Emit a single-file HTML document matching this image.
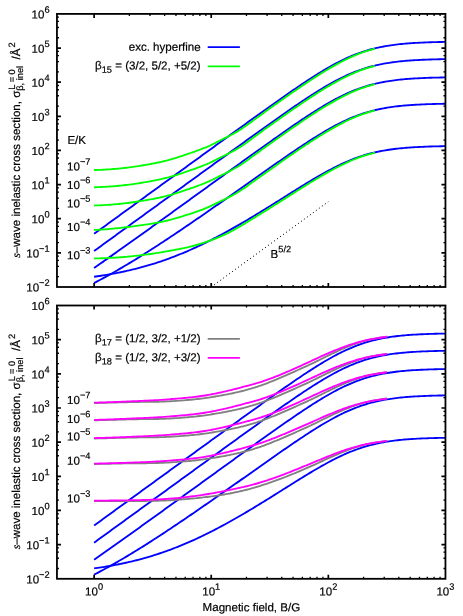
<!DOCTYPE html><html><head><meta charset="utf-8"><title>chart</title><style>html,body{margin:0;padding:0;background:#fff}body{width:463px;height:616px;position:relative;overflow:hidden;font-family:"Liberation Sans",sans-serif}</style></head><body><svg width="463" height="616" viewBox="0 0 463 616" style="position:absolute;left:0;top:0;will-change:transform">
<rect width="463" height="616" fill="#fff"/>
<g fill="none" stroke-linejoin="round" stroke-linecap="butt">
<path d="M211.22,287.00 L328.33,201.66" stroke="#000" stroke-width="1" stroke-dasharray="1.1,2.6"/>
<path d="M94.10,233.86 L95.87,232.58 L97.63,231.30 L99.40,230.01 L101.16,228.73 L102.93,227.45 L104.69,226.17 L106.46,224.88 L108.22,223.60 L109.99,222.32 L111.76,221.03 L113.52,219.75 L115.29,218.47 L117.05,217.18 L118.82,215.90 L120.58,214.62 L122.35,213.33 L124.11,212.05 L125.88,210.77 L127.65,209.48 L129.41,208.20 L131.18,206.92 L132.94,205.64 L134.71,204.35 L136.47,203.07 L138.24,201.79 L140.01,200.50 L141.77,199.22 L143.54,197.94 L145.30,196.65 L147.07,195.37 L148.83,194.09 L150.60,192.80 L152.36,191.52 L154.13,190.24 L155.90,188.96 L157.66,187.67 L159.43,186.39 L161.19,185.11 L162.96,183.82 L164.72,182.54 L166.49,181.26 L168.25,179.98 L170.02,178.69 L171.79,177.41 L173.55,176.13 L175.32,174.84 L177.08,173.56 L178.85,172.28 L180.61,171.00 L182.38,169.71 L184.14,168.43 L185.91,167.15 L187.68,165.87 L189.44,164.58 L191.21,163.30 L192.97,162.02 L194.74,160.74 L196.50,159.46 L198.27,158.17 L200.03,156.89 L201.80,155.61 L203.57,154.33 L205.33,153.05 L207.10,151.76 L208.86,150.48 L210.63,149.20 L212.39,147.92 L214.16,146.64 L215.92,145.36 L217.69,144.08 L219.46,142.80 L221.22,141.52 L222.99,140.24 L224.75,138.96 L226.52,137.68 L228.28,136.40 L230.05,135.12 L231.82,133.85 L233.58,132.57 L235.35,131.29 L237.11,130.02 L238.88,128.74 L240.64,127.46 L242.41,126.19 L244.17,124.91 L245.94,123.64 L247.71,122.37 L249.47,121.10 L251.24,119.82 L253.00,118.55 L254.77,117.28 L256.53,116.02 L258.30,114.75 L260.06,113.48 L261.83,112.22 L263.60,110.96 L265.36,109.69 L267.13,108.43 L268.89,107.18 L270.66,105.92 L272.42,104.67 L274.19,103.41 L275.95,102.17 L277.72,100.92 L279.49,99.68 L281.25,98.43 L283.02,97.20 L284.78,95.96 L286.55,94.73 L288.31,93.51 L290.08,92.28 L291.84,91.07 L293.61,89.85 L295.38,88.65 L297.14,87.44 L298.91,86.25 L300.67,85.06 L302.44,83.88 L304.20,82.70 L305.97,81.53 L307.73,80.37 L309.50,79.22 L311.27,78.08 L313.03,76.95 L314.80,75.83 L316.56,74.72 L318.33,73.62 L320.09,72.54 L321.86,71.46 L323.63,70.40 L325.39,69.36 L327.16,68.33 L328.92,67.32 L330.69,66.32 L332.45,65.34 L334.22,64.38 L335.98,63.44 L337.75,62.51 L339.52,61.61 L341.28,60.73 L343.05,59.86 L344.81,59.02 L346.58,58.21 L348.34,57.41 L350.11,56.64 L351.87,55.89 L353.64,55.17 L355.41,54.47 L357.17,53.79 L358.94,53.14 L360.70,52.51 L362.47,51.91 L364.23,51.33 L366.00,50.78 L367.76,50.25 L369.53,49.74 L371.30,49.25 L373.06,48.79 L374.83,48.35 L376.59,47.94 L378.36,47.54 L380.12,47.16 L381.89,46.81 L383.65,46.47 L385.42,46.15 L387.19,45.85 L388.95,45.57 L390.72,45.30 L392.48,45.05 L394.25,44.82 L396.01,44.60 L397.78,44.39 L399.54,44.19 L401.31,44.01 L403.08,43.84 L404.84,43.68 L406.61,43.53 L408.37,43.39 L410.14,43.26 L411.90,43.13 L413.67,43.02 L415.44,42.91 L417.20,42.81 L418.97,42.72 L420.73,42.64 L422.50,42.56 L424.26,42.48 L426.03,42.41 L427.79,42.35 L429.56,42.29 L431.33,42.23 L433.09,42.18 L434.86,42.13 L436.62,42.09 L438.39,42.04 L440.15,42.00 L441.92,41.97 L443.68,41.94 L445.45,41.90" stroke="#0000ff" stroke-width="1.85"/>
<path d="M94.10,251.03 L95.87,249.75 L97.63,248.46 L99.40,247.18 L101.16,245.90 L102.93,244.62 L104.69,243.34 L106.46,242.06 L108.22,240.78 L109.99,239.50 L111.76,238.22 L113.52,236.93 L115.29,235.65 L117.05,234.37 L118.82,233.09 L120.58,231.81 L122.35,230.53 L124.11,229.25 L125.88,227.96 L127.65,226.68 L129.41,225.40 L131.18,224.12 L132.94,222.84 L134.71,221.55 L136.47,220.27 L138.24,218.99 L140.01,217.71 L141.77,216.43 L143.54,215.14 L145.30,213.86 L147.07,212.58 L148.83,211.30 L150.60,210.02 L152.36,208.73 L154.13,207.45 L155.90,206.17 L157.66,204.89 L159.43,203.60 L161.19,202.32 L162.96,201.04 L164.72,199.76 L166.49,198.48 L168.25,197.19 L170.02,195.91 L171.79,194.63 L173.55,193.35 L175.32,192.06 L177.08,190.78 L178.85,189.50 L180.61,188.22 L182.38,186.94 L184.14,185.65 L185.91,184.37 L187.68,183.09 L189.44,181.81 L191.21,180.53 L192.97,179.24 L194.74,177.96 L196.50,176.68 L198.27,175.40 L200.03,174.12 L201.80,172.84 L203.57,171.56 L205.33,170.27 L207.10,168.99 L208.86,167.71 L210.63,166.43 L212.39,165.15 L214.16,163.87 L215.92,162.59 L217.69,161.31 L219.46,160.03 L221.22,158.75 L222.99,157.47 L224.75,156.19 L226.52,154.91 L228.28,153.63 L230.05,152.36 L231.82,151.08 L233.58,149.80 L235.35,148.52 L237.11,147.25 L238.88,145.97 L240.64,144.70 L242.41,143.42 L244.17,142.15 L245.94,140.87 L247.71,139.60 L249.47,138.33 L251.24,137.06 L253.00,135.79 L254.77,134.52 L256.53,133.25 L258.30,131.98 L260.06,130.72 L261.83,129.45 L263.60,128.19 L265.36,126.93 L267.13,125.67 L268.89,124.41 L270.66,123.15 L272.42,121.90 L274.19,120.65 L275.95,119.40 L277.72,118.15 L279.49,116.91 L281.25,115.67 L283.02,114.43 L284.78,113.20 L286.55,111.97 L288.31,110.74 L290.08,109.52 L291.84,108.30 L293.61,107.09 L295.38,105.88 L297.14,104.68 L298.91,103.48 L300.67,102.29 L302.44,101.11 L304.20,99.94 L305.97,98.77 L307.73,97.61 L309.50,96.46 L311.27,95.32 L313.03,94.19 L314.80,93.06 L316.56,91.95 L318.33,90.86 L320.09,89.77 L321.86,88.70 L323.63,87.64 L325.39,86.60 L327.16,85.57 L328.92,84.55 L330.69,83.56 L332.45,82.58 L334.22,81.61 L335.98,80.67 L337.75,79.75 L339.52,78.84 L341.28,77.96 L343.05,77.10 L344.81,76.26 L346.58,75.44 L348.34,74.65 L350.11,73.87 L351.87,73.13 L353.64,72.40 L355.41,71.70 L357.17,71.03 L358.94,70.37 L360.70,69.75 L362.47,69.14 L364.23,68.57 L366.00,68.01 L367.76,67.48 L369.53,66.97 L371.30,66.49 L373.06,66.03 L374.83,65.59 L376.59,65.17 L378.36,64.78 L380.12,64.40 L381.89,64.04 L383.65,63.71 L385.42,63.39 L387.19,63.09 L388.95,62.81 L390.72,62.54 L392.48,62.29 L394.25,62.05 L396.01,61.83 L397.78,61.62 L399.54,61.43 L401.31,61.25 L403.08,61.07 L404.84,60.91 L406.61,60.76 L408.37,60.62 L410.14,60.49 L411.90,60.37 L413.67,60.26 L415.44,60.15 L417.20,60.05 L418.97,59.96 L420.73,59.87 L422.50,59.79 L424.26,59.72 L426.03,59.65 L427.79,59.58 L429.56,59.52 L431.33,59.47 L433.09,59.41 L434.86,59.37 L436.62,59.32 L438.39,59.28 L440.15,59.24 L441.92,59.20 L443.68,59.17 L445.45,59.14" stroke="#0000ff" stroke-width="1.85"/>
<path d="M94.10,268.08 L95.87,266.84 L97.63,265.60 L99.40,264.36 L101.16,263.11 L102.93,261.87 L104.69,260.62 L106.46,259.37 L108.22,258.13 L109.99,256.87 L111.76,255.62 L113.52,254.37 L115.29,253.12 L117.05,251.86 L118.82,250.61 L120.58,249.35 L122.35,248.09 L124.11,246.84 L125.88,245.58 L127.65,244.32 L129.41,243.06 L131.18,241.80 L132.94,240.53 L134.71,239.27 L136.47,238.01 L138.24,236.74 L140.01,235.48 L141.77,234.21 L143.54,232.95 L145.30,231.68 L147.07,230.41 L148.83,229.15 L150.60,227.88 L152.36,226.61 L154.13,225.34 L155.90,224.07 L157.66,222.80 L159.43,221.53 L161.19,220.26 L162.96,218.99 L164.72,217.72 L166.49,216.45 L168.25,215.17 L170.02,213.90 L171.79,212.63 L173.55,211.36 L175.32,210.08 L177.08,208.81 L178.85,207.54 L180.61,206.26 L182.38,204.99 L184.14,203.71 L185.91,202.44 L187.68,201.16 L189.44,199.89 L191.21,198.61 L192.97,197.34 L194.74,196.06 L196.50,194.78 L198.27,193.51 L200.03,192.23 L201.80,190.96 L203.57,189.68 L205.33,188.40 L207.10,187.13 L208.86,185.85 L210.63,184.57 L212.39,183.30 L214.16,182.02 L215.92,180.74 L217.69,179.47 L219.46,178.19 L221.22,176.92 L222.99,175.64 L224.75,174.36 L226.52,173.09 L228.28,171.81 L230.05,170.54 L231.82,169.26 L233.58,167.99 L235.35,166.71 L237.11,165.44 L238.88,164.17 L240.64,162.89 L242.41,161.62 L244.17,160.35 L245.94,159.08 L247.71,157.81 L249.47,156.54 L251.24,155.27 L253.00,154.00 L254.77,152.73 L256.53,151.47 L258.30,150.20 L260.06,148.94 L261.83,147.67 L263.60,146.41 L265.36,145.15 L267.13,143.89 L268.89,142.64 L270.66,141.38 L272.42,140.13 L274.19,138.88 L275.95,137.63 L277.72,136.39 L279.49,135.15 L281.25,133.91 L283.02,132.67 L284.78,131.44 L286.55,130.21 L288.31,128.98 L290.08,127.76 L291.84,126.54 L293.61,125.33 L295.38,124.13 L297.14,122.92 L298.91,121.73 L300.67,120.54 L302.44,119.36 L304.20,118.18 L305.97,117.02 L307.73,115.86 L309.50,114.71 L311.27,113.57 L313.03,112.44 L314.80,111.32 L316.56,110.21 L318.33,109.11 L320.09,108.03 L321.86,106.95 L323.63,105.90 L325.39,104.85 L327.16,103.82 L328.92,102.81 L330.69,101.81 L332.45,100.83 L334.22,99.87 L335.98,98.93 L337.75,98.01 L339.52,97.10 L341.28,96.22 L343.05,95.36 L344.81,94.52 L346.58,93.70 L348.34,92.91 L350.11,92.14 L351.87,91.39 L353.64,90.67 L355.41,89.97 L357.17,89.29 L358.94,88.64 L360.70,88.01 L362.47,87.41 L364.23,86.83 L366.00,86.28 L367.76,85.75 L369.53,85.24 L371.30,84.76 L373.06,84.29 L374.83,83.86 L376.59,83.44 L378.36,83.04 L380.12,82.67 L381.89,82.31 L383.65,81.97 L385.42,81.66 L387.19,81.36 L388.95,81.07 L390.72,80.81 L392.48,80.56 L394.25,80.32 L396.01,80.10 L397.78,79.89 L399.54,79.69 L401.31,79.51 L403.08,79.34 L404.84,79.18 L406.61,79.03 L408.37,78.89 L410.14,78.76 L411.90,78.64 L413.67,78.52 L415.44,78.42 L417.20,78.32 L418.97,78.22 L420.73,78.14 L422.50,78.06 L424.26,77.98 L426.03,77.91 L427.79,77.85 L429.56,77.79 L431.33,77.73 L433.09,77.68 L434.86,77.63 L436.62,77.59 L438.39,77.55 L440.15,77.51 L441.92,77.47 L443.68,77.44 L445.45,77.41" stroke="#0000ff" stroke-width="1.85"/>
<path d="M94.10,283.00 L95.87,282.08 L97.63,281.16 L99.40,280.23 L101.16,279.29 L102.93,278.34 L104.69,277.38 L106.46,276.41 L108.22,275.44 L109.99,274.45 L111.76,273.46 L113.52,272.46 L115.29,271.46 L117.05,270.44 L118.82,269.42 L120.58,268.40 L122.35,267.36 L124.11,266.32 L125.88,265.27 L127.65,264.21 L129.41,263.15 L131.18,262.09 L132.94,261.01 L134.71,259.93 L136.47,258.85 L138.24,257.75 L140.01,256.66 L141.77,255.55 L143.54,254.45 L145.30,253.33 L147.07,252.21 L148.83,251.09 L150.60,249.96 L152.36,248.83 L154.13,247.69 L155.90,246.55 L157.66,245.41 L159.43,244.26 L161.19,243.10 L162.96,241.95 L164.72,240.78 L166.49,239.62 L168.25,238.45 L170.02,237.28 L171.79,236.10 L173.55,234.92 L175.32,233.74 L177.08,232.55 L178.85,231.37 L180.61,230.17 L182.38,228.98 L184.14,227.78 L185.91,226.58 L187.68,225.38 L189.44,224.17 L191.21,222.97 L192.97,221.76 L194.74,220.55 L196.50,219.33 L198.27,218.12 L200.03,216.90 L201.80,215.68 L203.57,214.46 L205.33,213.23 L207.10,212.01 L208.86,210.78 L210.63,209.55 L212.39,208.32 L214.16,207.09 L215.92,205.85 L217.69,204.62 L219.46,203.38 L221.22,202.15 L222.99,200.91 L224.75,199.67 L226.52,198.43 L228.28,197.19 L230.05,195.94 L231.82,194.70 L233.58,193.46 L235.35,192.21 L237.11,190.97 L238.88,189.72 L240.64,188.48 L242.41,187.23 L244.17,185.98 L245.94,184.74 L247.71,183.49 L249.47,182.24 L251.24,181.00 L253.00,179.75 L254.77,178.50 L256.53,177.26 L258.30,176.01 L260.06,174.77 L261.83,173.52 L263.60,172.28 L265.36,171.03 L267.13,169.79 L268.89,168.55 L270.66,167.31 L272.42,166.08 L274.19,164.84 L275.95,163.61 L277.72,162.37 L279.49,161.14 L281.25,159.92 L283.02,158.69 L284.78,157.47 L286.55,156.25 L288.31,155.04 L290.08,153.83 L291.84,152.62 L293.61,151.42 L295.38,150.23 L297.14,149.03 L298.91,147.85 L300.67,146.67 L302.44,145.50 L304.20,144.33 L305.97,143.17 L307.73,142.02 L309.50,140.88 L311.27,139.75 L313.03,138.62 L314.80,137.51 L316.56,136.41 L318.33,135.32 L320.09,134.24 L321.86,133.17 L323.63,132.12 L325.39,131.08 L327.16,130.06 L328.92,129.05 L330.69,128.06 L332.45,127.09 L334.22,126.13 L335.98,125.19 L337.75,124.27 L339.52,123.38 L341.28,122.50 L343.05,121.64 L344.81,120.80 L346.58,119.99 L348.34,119.20 L350.11,118.43 L351.87,117.69 L353.64,116.97 L355.41,116.27 L357.17,115.60 L358.94,114.95 L360.70,114.33 L362.47,113.73 L364.23,113.15 L366.00,112.60 L367.76,112.07 L369.53,111.56 L371.30,111.08 L373.06,110.62 L374.83,110.19 L376.59,109.77 L378.36,109.38 L380.12,109.00 L381.89,108.65 L383.65,108.31 L385.42,107.99 L387.19,107.69 L388.95,107.41 L390.72,107.15 L392.48,106.90 L394.25,106.66 L396.01,106.44 L397.78,106.23 L399.54,106.04 L401.31,105.86 L403.08,105.69 L404.84,105.53 L406.61,105.38 L408.37,105.24 L410.14,105.11 L411.90,104.98 L413.67,104.87 L415.44,104.76 L417.20,104.66 L418.97,104.57 L420.73,104.49 L422.50,104.41 L424.26,104.33 L426.03,104.26 L427.79,104.20 L429.56,104.14 L431.33,104.08 L433.09,104.03 L434.86,103.98 L436.62,103.94 L438.39,103.89 L440.15,103.86 L441.92,103.82 L443.68,103.79 L445.45,103.76" stroke="#0000ff" stroke-width="1.85"/>
<path d="M94.10,276.76 L95.87,276.51 L97.63,276.26 L99.40,276.00 L101.16,275.73 L102.93,275.45 L104.69,275.17 L106.46,274.87 L108.22,274.57 L109.99,274.27 L111.76,273.95 L113.52,273.63 L115.29,273.29 L117.05,272.95 L118.82,272.60 L120.58,272.24 L122.35,271.87 L124.11,271.50 L125.88,271.11 L127.65,270.71 L129.41,270.31 L131.18,269.89 L132.94,269.47 L134.71,269.03 L136.47,268.59 L138.24,268.13 L140.01,267.67 L141.77,267.19 L143.54,266.71 L145.30,266.21 L147.07,265.70 L148.83,265.19 L150.60,264.66 L152.36,264.12 L154.13,263.57 L155.90,263.01 L157.66,262.43 L159.43,261.85 L161.19,261.26 L162.96,260.65 L164.72,260.04 L166.49,259.41 L168.25,258.77 L170.02,258.12 L171.79,257.46 L173.55,256.79 L175.32,256.11 L177.08,255.41 L178.85,254.71 L180.61,253.99 L182.38,253.27 L184.14,252.53 L185.91,251.78 L187.68,251.03 L189.44,250.26 L191.21,249.48 L192.97,248.69 L194.74,247.89 L196.50,247.07 L198.27,246.25 L200.03,245.42 L201.80,244.58 L203.57,243.73 L205.33,242.87 L207.10,242.00 L208.86,241.12 L210.63,240.23 L212.39,239.33 L214.16,238.43 L215.92,237.51 L217.69,236.59 L219.46,235.65 L221.22,234.71 L222.99,233.76 L224.75,232.81 L226.52,231.84 L228.28,230.87 L230.05,229.89 L231.82,228.90 L233.58,227.90 L235.35,226.90 L237.11,225.89 L238.88,224.87 L240.64,223.85 L242.41,222.82 L244.17,221.79 L245.94,220.75 L247.71,219.70 L249.47,218.65 L251.24,217.59 L253.00,216.53 L254.77,215.47 L256.53,214.39 L258.30,213.32 L260.06,212.24 L261.83,211.16 L263.60,210.07 L265.36,208.98 L267.13,207.88 L268.89,206.79 L270.66,205.69 L272.42,204.59 L274.19,203.48 L275.95,202.38 L277.72,201.27 L279.49,200.16 L281.25,199.05 L283.02,197.94 L284.78,196.83 L286.55,195.72 L288.31,194.62 L290.08,193.51 L291.84,192.40 L293.61,191.30 L295.38,190.19 L297.14,189.09 L298.91,188.00 L300.67,186.90 L302.44,185.82 L304.20,184.73 L305.97,183.65 L307.73,182.58 L309.50,181.51 L311.27,180.45 L313.03,179.40 L314.80,178.36 L316.56,177.32 L318.33,176.30 L320.09,175.28 L321.86,174.28 L323.63,173.29 L325.39,172.31 L327.16,171.34 L328.92,170.39 L330.69,169.45 L332.45,168.53 L334.22,167.62 L335.98,166.73 L337.75,165.86 L339.52,165.01 L341.28,164.17 L343.05,163.36 L344.81,162.56 L346.58,161.79 L348.34,161.03 L350.11,160.30 L351.87,159.59 L353.64,158.90 L355.41,158.24 L357.17,157.60 L358.94,156.98 L360.70,156.38 L362.47,155.80 L364.23,155.25 L366.00,154.72 L367.76,154.22 L369.53,153.73 L371.30,153.27 L373.06,152.83 L374.83,152.40 L376.59,152.00 L378.36,151.62 L380.12,151.26 L381.89,150.92 L383.65,150.60 L385.42,150.29 L387.19,150.00 L388.95,149.73 L390.72,149.47 L392.48,149.23 L394.25,149.00 L396.01,148.78 L397.78,148.58 L399.54,148.39 L401.31,148.22 L403.08,148.05 L404.84,147.89 L406.61,147.75 L408.37,147.61 L410.14,147.48 L411.90,147.36 L413.67,147.25 L415.44,147.15 L417.20,147.05 L418.97,146.96 L420.73,146.88 L422.50,146.80 L424.26,146.73 L426.03,146.66 L427.79,146.59 L429.56,146.53 L431.33,146.48 L433.09,146.43 L434.86,146.38 L436.62,146.34 L438.39,146.30 L440.15,146.26 L441.92,146.22 L443.68,146.19 L445.45,146.16" stroke="#0000ff" stroke-width="1.85"/>
<path d="M94.10,170.03 L95.87,169.99 L97.63,169.93 L99.40,169.87 L101.17,169.80 L102.93,169.72 L104.70,169.62 L106.46,169.53 L108.23,169.42 L110.00,169.30 L111.76,169.17 L113.53,169.03 L115.30,168.89 L117.06,168.73 L118.83,168.56 L120.59,168.38 L122.36,168.20 L124.13,168.00 L125.89,167.79 L127.66,167.57 L129.43,167.34 L131.19,167.10 L132.96,166.85 L134.72,166.59 L136.49,166.33 L138.26,166.06 L140.02,165.79 L141.79,165.51 L143.56,165.23 L145.32,164.93 L147.09,164.63 L148.85,164.32 L150.62,164.00 L152.39,163.67 L154.15,163.33 L155.92,162.97 L157.69,162.61 L159.45,162.23 L161.22,161.84 L162.98,161.43 L164.75,161.01 L166.52,160.57 L168.28,160.11 L170.05,159.64 L171.82,159.15 L173.58,158.64 L175.35,158.10 L177.12,157.54 L178.88,156.97 L180.65,156.39 L182.41,155.79 L184.18,155.19 L185.95,154.58 L187.71,153.97 L189.48,153.36 L191.25,152.75 L193.01,152.14 L194.78,151.53 L196.54,150.90 L198.31,150.25 L200.08,149.59 L201.84,148.91 L203.61,148.23 L205.38,147.53 L207.14,146.80 L208.91,146.04 L210.67,145.22 L212.44,144.36 L214.21,143.47 L215.97,142.56 L217.74,141.66 L219.51,140.77 L221.27,139.90 L223.04,139.04 L224.80,138.18 L226.57,137.31 L228.34,136.39 L230.10,135.46 L231.87,134.54 L233.64,133.60 L235.40,132.62 L237.17,131.59 L238.94,130.50 L240.70,129.37 L242.47,128.22 L244.23,127.04 L246.00,125.80 L247.77,124.52 L249.53,123.22 L251.30,121.93 L253.07,120.62 L254.83,119.32 L256.60,118.02 L258.36,116.72 L260.13,115.43 L261.90,114.16 L263.66,112.88 L265.43,111.60 L267.20,110.33 L268.96,109.06 L270.73,107.80 L272.49,106.54 L274.26,105.28 L276.03,104.02 L277.79,102.76 L279.56,101.51 L281.33,100.26 L283.09,99.02 L284.86,97.77 L286.62,96.53 L288.39,95.30 L290.16,94.06 L291.92,92.83 L293.69,91.61 L295.46,90.39 L297.22,89.17 L298.99,87.96 L300.75,86.75 L302.52,85.55 L304.29,84.36 L306.05,83.17 L307.82,81.99 L309.59,80.82 L311.35,79.66 L313.12,78.51 L314.89,77.36 L316.65,76.23 L318.42,75.10 L320.18,73.99 L321.95,72.89 L323.72,71.81 L325.48,70.73 L327.25,69.67 L329.02,68.63 L330.78,67.60 L332.55,66.59 L334.31,65.59 L336.08,64.62 L337.85,63.66 L339.61,62.72 L341.38,61.79 L343.15,60.88 L344.91,59.98 L346.68,59.09 L348.44,58.23 L350.21,57.39 L351.98,56.58 L353.74,55.80 L355.51,55.07 L357.28,54.35 L359.04,53.67 L360.81,53.00 L362.57,52.37 L364.34,51.76 L366.11,51.18 L367.87,50.62 L369.64,50.09 L371.41,49.59 L373.17,49.12 L374.94,48.68" stroke="#00ff00" stroke-width="1.85"/>
<path d="M94.10,187.27 L95.87,187.22 L97.63,187.17 L99.40,187.10 L101.17,187.03 L102.93,186.95 L104.70,186.86 L106.46,186.76 L108.23,186.65 L110.00,186.53 L111.76,186.40 L113.53,186.26 L115.30,186.12 L117.06,185.96 L118.83,185.79 L120.59,185.61 L122.36,185.43 L124.13,185.23 L125.89,185.02 L127.66,184.80 L129.43,184.57 L131.19,184.33 L132.96,184.08 L134.72,183.82 L136.49,183.56 L138.26,183.29 L140.02,183.02 L141.79,182.74 L143.56,182.46 L145.32,182.16 L147.09,181.86 L148.85,181.55 L150.62,181.23 L152.39,180.90 L154.15,180.56 L155.92,180.20 L157.69,179.84 L159.45,179.46 L161.22,179.06 L162.98,178.66 L164.75,178.24 L166.52,177.80 L168.28,177.34 L170.05,176.87 L171.82,176.38 L173.58,175.87 L175.35,175.33 L177.12,174.77 L178.88,174.20 L180.65,173.62 L182.41,173.02 L184.18,172.42 L185.95,171.81 L187.71,171.20 L189.48,170.59 L191.25,169.98 L193.01,169.37 L194.78,168.76 L196.54,168.13 L198.31,167.48 L200.08,166.82 L201.84,166.14 L203.61,165.46 L205.38,164.76 L207.14,164.03 L208.91,163.27 L210.67,162.45 L212.44,161.59 L214.21,160.70 L215.97,159.79 L217.74,158.89 L219.51,158.00 L221.27,157.13 L223.04,156.27 L224.80,155.42 L226.57,154.54 L228.34,153.62 L230.10,152.70 L231.87,151.77 L233.64,150.83 L235.40,149.85 L237.17,148.83 L238.94,147.73 L240.70,146.60 L242.47,145.45 L244.23,144.27 L246.00,143.03 L247.77,141.75 L249.53,140.46 L251.30,139.16 L253.07,137.85 L254.83,136.55 L256.60,135.25 L258.36,133.95 L260.13,132.67 L261.90,131.39 L263.66,130.11 L265.43,128.84 L267.20,127.57 L268.96,126.30 L270.73,125.03 L272.49,123.77 L274.26,122.51 L276.03,121.25 L277.79,120.00 L279.56,118.75 L281.33,117.50 L283.09,116.25 L284.86,115.01 L286.62,113.77 L288.39,112.53 L290.16,111.30 L291.92,110.07 L293.69,108.84 L295.46,107.62 L297.22,106.41 L298.99,105.19 L300.75,103.99 L302.52,102.79 L304.29,101.59 L306.05,100.41 L307.82,99.23 L309.59,98.06 L311.35,96.89 L313.12,95.74 L314.89,94.60 L316.65,93.46 L318.42,92.34 L320.18,91.23 L321.95,90.13 L323.72,89.04 L325.48,87.97 L327.25,86.91 L329.02,85.87 L330.78,84.84 L332.55,83.82 L334.31,82.83 L336.08,81.85 L337.85,80.89 L339.61,79.95 L341.38,79.03 L343.15,78.11 L344.91,77.21 L346.68,76.33 L348.44,75.46 L350.21,74.63 L351.98,73.82 L353.74,73.04 L355.51,72.30 L357.28,71.59 L359.04,70.90 L360.81,70.24 L362.57,69.60 L364.34,69.00 L366.11,68.41 L367.87,67.86 L369.64,67.33 L371.41,66.83 L373.17,66.36 L374.94,65.91" stroke="#00ff00" stroke-width="1.85"/>
<path d="M94.10,205.49 L95.87,205.44 L97.63,205.38 L99.40,205.31 L101.17,205.23 L102.93,205.14 L104.70,205.05 L106.46,204.94 L108.23,204.83 L110.00,204.71 L111.76,204.58 L113.53,204.44 L115.30,204.29 L117.06,204.13 L118.83,203.96 L120.59,203.78 L122.36,203.59 L124.13,203.39 L125.89,203.18 L127.66,202.96 L129.43,202.72 L131.19,202.48 L132.96,202.23 L134.72,201.98 L136.49,201.72 L138.26,201.45 L140.02,201.18 L141.79,200.90 L143.56,200.62 L145.32,200.33 L147.09,200.02 L148.85,199.71 L150.62,199.39 L152.39,199.06 L154.15,198.72 L155.92,198.37 L157.69,198.00 L159.45,197.62 L161.22,197.23 L162.98,196.82 L164.75,196.40 L166.52,195.96 L168.28,195.51 L170.05,195.03 L171.82,194.54 L173.58,194.03 L175.35,193.49 L177.12,192.93 L178.88,192.36 L180.65,191.78 L182.41,191.19 L184.18,190.58 L185.95,189.98 L187.71,189.37 L189.48,188.77 L191.25,188.16 L193.01,187.56 L194.78,186.94 L196.54,186.31 L198.31,185.67 L200.08,185.00 L201.84,184.33 L203.61,183.65 L205.38,182.95 L207.14,182.22 L208.91,181.45 L210.67,180.63 L212.44,179.77 L214.21,178.88 L215.97,177.98 L217.74,177.08 L219.51,176.19 L221.27,175.33 L223.04,174.48 L224.80,173.62 L226.57,172.74 L228.34,171.83 L230.10,170.90 L231.87,169.98 L233.64,169.04 L235.40,168.06 L237.17,167.03 L238.94,165.94 L240.70,164.81 L242.47,163.66 L244.23,162.47 L246.00,161.23 L247.77,159.96 L249.53,158.67 L251.30,157.37 L253.07,156.07 L254.83,154.76 L256.60,153.47 L258.36,152.17 L260.13,150.89 L261.90,149.61 L263.66,148.34 L265.43,147.06 L267.20,145.79 L268.96,144.53 L270.73,143.26 L272.49,142.00 L274.26,140.74 L276.03,139.49 L277.79,138.23 L279.56,136.98 L281.33,135.73 L283.09,134.49 L284.86,133.25 L286.62,132.01 L288.39,130.77 L290.16,129.54 L291.92,128.31 L293.69,127.09 L295.46,125.87 L297.22,124.65 L298.99,123.44 L300.75,122.23 L302.52,121.04 L304.29,119.84 L306.05,118.66 L307.82,117.48 L309.59,116.31 L311.35,115.15 L313.12,113.99 L314.89,112.85 L316.65,111.72 L318.42,110.59 L320.18,109.48 L321.95,108.38 L323.72,107.30 L325.48,106.22 L327.25,105.17 L329.02,104.12 L330.78,103.09 L332.55,102.08 L334.31,101.09 L336.08,100.11 L337.85,99.15 L339.61,98.21 L341.38,97.29 L343.15,96.37 L344.91,95.47 L346.68,94.59 L348.44,93.72 L350.21,92.89 L351.98,92.08 L353.74,91.30 L355.51,90.56 L357.28,89.85 L359.04,89.17 L360.81,88.50 L362.57,87.87 L364.34,87.26 L366.11,86.68 L367.87,86.12 L369.64,85.59 L371.41,85.09 L373.17,84.62 L374.94,84.18" stroke="#00ff00" stroke-width="1.85"/>
<path d="M94.10,230.03 L95.87,229.94 L97.63,229.84 L99.40,229.73 L101.17,229.61 L102.93,229.49 L104.70,229.36 L106.46,229.23 L108.23,229.09 L110.00,228.94 L111.76,228.78 L113.53,228.62 L115.30,228.45 L117.06,228.27 L118.83,228.08 L120.59,227.88 L122.36,227.68 L124.13,227.47 L125.89,227.25 L127.66,227.04 L129.43,226.81 L131.19,226.59 L132.96,226.35 L134.72,226.12 L136.49,225.88 L138.26,225.64 L140.02,225.40 L141.79,225.16 L143.56,224.91 L145.32,224.66 L147.09,224.40 L148.85,224.13 L150.62,223.85 L152.39,223.56 L154.15,223.26 L155.92,222.95 L157.69,222.63 L159.45,222.29 L161.22,221.94 L162.98,221.57 L164.75,221.18 L166.52,220.77 L168.28,220.34 L170.05,219.89 L171.82,219.41 L173.58,218.91 L175.35,218.41 L177.12,217.89 L178.88,217.36 L180.65,216.82 L182.41,216.28 L184.18,215.73 L185.95,215.18 L187.71,214.63 L189.48,214.08 L191.25,213.52 L193.01,212.95 L194.78,212.35 L196.54,211.74 L198.31,211.11 L200.08,210.47 L201.84,209.81 L203.61,209.14 L205.38,208.43 L207.14,207.68 L208.91,206.89 L210.67,206.06 L212.44,205.20 L214.21,204.33 L215.97,203.45 L217.74,202.60 L219.51,201.76 L221.27,200.93 L223.04,200.10 L224.80,199.25 L226.57,198.37 L228.34,197.47 L230.10,196.57 L231.87,195.66 L233.64,194.72 L235.40,193.73 L237.17,192.69 L238.94,191.58 L240.70,190.47 L242.47,189.33 L244.23,188.14 L246.00,186.89 L247.77,185.63 L249.53,184.36 L251.30,183.08 L253.07,181.80 L254.83,180.52 L256.60,179.24 L258.36,177.97 L260.13,176.71 L261.90,175.45 L263.66,174.20 L265.43,172.94 L267.20,171.69 L268.96,170.44 L270.73,169.19 L272.49,167.94 L274.26,166.70 L276.03,165.46 L277.79,164.22 L279.56,162.98 L281.33,161.74 L283.09,160.51 L284.86,159.28 L286.62,158.05 L288.39,156.83 L290.16,155.61 L291.92,154.39 L293.69,153.18 L295.46,151.96 L297.22,150.76 L298.99,149.56 L300.75,148.36 L302.52,147.17 L304.29,145.99 L306.05,144.81 L307.82,143.64 L309.59,142.47 L311.35,141.32 L313.12,140.17 L314.89,139.04 L316.65,137.91 L318.42,136.80 L320.18,135.69 L321.95,134.60 L323.72,133.52 L325.48,132.45 L327.25,131.40 L329.02,130.36 L330.78,129.34 L332.55,128.33 L334.31,127.34 L336.08,126.37 L337.85,125.42 L339.61,124.48 L341.38,123.56 L343.15,122.65 L344.91,121.75 L346.68,120.87 L348.44,120.01 L350.21,119.18 L351.98,118.37 L353.74,117.60 L355.51,116.87 L357.28,116.16 L359.04,115.47 L360.81,114.82 L362.57,114.18 L364.34,113.58 L366.11,113.00 L367.87,112.44 L369.64,111.92 L371.41,111.42 L373.17,110.95 L374.94,110.51" stroke="#00ff00" stroke-width="1.85"/>
<path d="M94.10,258.50 L95.87,258.45 L97.63,258.40 L99.40,258.35 L101.17,258.29 L102.93,258.22 L104.70,258.15 L106.46,258.08 L108.23,257.99 L110.00,257.90 L111.76,257.81 L113.53,257.71 L115.30,257.60 L117.06,257.48 L118.83,257.36 L120.59,257.23 L122.36,257.10 L124.13,256.96 L125.89,256.81 L127.66,256.65 L129.43,256.48 L131.19,256.31 L132.96,256.13 L134.72,255.94 L136.49,255.75 L138.26,255.55 L140.02,255.34 L141.79,255.13 L143.56,254.91 L145.32,254.69 L147.09,254.45 L148.85,254.21 L150.62,253.96 L152.39,253.71 L154.15,253.45 L155.92,253.18 L157.69,252.90 L159.45,252.61 L161.22,252.31 L162.98,252.01 L164.75,251.70 L166.52,251.38 L168.28,251.06 L170.05,250.74 L171.82,250.40 L173.58,250.08 L175.35,249.76 L177.12,249.44 L178.88,249.12 L180.65,248.78 L182.41,248.44 L184.18,248.07 L185.95,247.69 L187.71,247.29 L189.48,246.87 L191.25,246.43 L193.01,245.97 L194.78,245.49 L196.54,244.99 L198.31,244.47 L200.08,243.93 L201.84,243.37 L203.61,242.80 L205.38,242.22 L207.14,241.62 L208.91,240.99 L210.67,240.35 L212.44,239.70 L214.21,239.04 L215.97,238.37 L217.74,237.69 L219.51,236.97 L221.27,236.22 L223.04,235.44 L224.80,234.60 L226.57,233.74 L228.34,232.87 L230.10,231.97 L231.87,231.04 L233.64,230.07 L235.40,229.06 L237.17,228.04 L238.94,227.01 L240.70,225.96 L242.47,224.90 L244.23,223.84 L246.00,222.77 L247.77,221.70 L249.53,220.63 L251.30,219.55 L253.07,218.48 L254.83,217.40 L256.60,216.32 L258.36,215.23 L260.13,214.14 L261.90,213.05 L263.66,211.95 L265.43,210.86 L267.20,209.75 L268.96,208.65 L270.73,207.54 L272.49,206.43 L274.26,205.32 L276.03,204.21 L277.79,203.10 L279.56,201.98 L281.33,200.86 L283.09,199.74 L284.86,198.62 L286.62,197.50 L288.39,196.38 L290.16,195.26 L291.92,194.14 L293.69,193.02 L295.46,191.91 L297.22,190.79 L298.99,189.68 L300.75,188.57 L302.52,187.46 L304.29,186.36 L306.05,185.26 L307.82,184.17 L309.59,183.08 L311.35,182.00 L313.12,180.92 L314.89,179.85 L316.65,178.80 L318.42,177.75 L320.18,176.70 L321.95,175.67 L323.72,174.65 L325.48,173.65 L327.25,172.65 L329.02,171.67 L330.78,170.70 L332.55,169.74 L334.31,168.80 L336.08,167.88 L337.85,166.97 L339.61,166.08 L341.38,165.19 L343.15,164.32 L344.91,163.46 L346.68,162.62 L348.44,161.80 L350.21,161.01 L351.98,160.24 L353.74,159.51 L355.51,158.81 L357.28,158.14 L359.04,157.48 L360.81,156.85 L362.57,156.24 L364.34,155.66 L366.11,155.11 L367.87,154.58 L369.64,154.08 L371.41,153.60 L373.17,153.15 L374.94,152.73" stroke="#00ff00" stroke-width="1.85"/>
<path d="M94.10,525.51 L95.87,524.23 L97.63,522.95 L99.40,521.66 L101.16,520.38 L102.93,519.10 L104.69,517.82 L106.46,516.53 L108.22,515.25 L109.99,513.97 L111.76,512.68 L113.52,511.40 L115.29,510.12 L117.05,508.83 L118.82,507.55 L120.58,506.27 L122.35,504.98 L124.11,503.70 L125.88,502.42 L127.65,501.13 L129.41,499.85 L131.18,498.57 L132.94,497.29 L134.71,496.00 L136.47,494.72 L138.24,493.44 L140.01,492.15 L141.77,490.87 L143.54,489.59 L145.30,488.30 L147.07,487.02 L148.83,485.74 L150.60,484.45 L152.36,483.17 L154.13,481.89 L155.90,480.61 L157.66,479.32 L159.43,478.04 L161.19,476.76 L162.96,475.47 L164.72,474.19 L166.49,472.91 L168.25,471.63 L170.02,470.34 L171.79,469.06 L173.55,467.78 L175.32,466.49 L177.08,465.21 L178.85,463.93 L180.61,462.65 L182.38,461.36 L184.14,460.08 L185.91,458.80 L187.68,457.52 L189.44,456.23 L191.21,454.95 L192.97,453.67 L194.74,452.39 L196.50,451.11 L198.27,449.82 L200.03,448.54 L201.80,447.26 L203.57,445.98 L205.33,444.70 L207.10,443.41 L208.86,442.13 L210.63,440.85 L212.39,439.57 L214.16,438.29 L215.92,437.01 L217.69,435.73 L219.46,434.45 L221.22,433.17 L222.99,431.89 L224.75,430.61 L226.52,429.33 L228.28,428.05 L230.05,426.77 L231.82,425.50 L233.58,424.22 L235.35,422.94 L237.11,421.67 L238.88,420.39 L240.64,419.11 L242.41,417.84 L244.17,416.56 L245.94,415.29 L247.71,414.02 L249.47,412.75 L251.24,411.47 L253.00,410.20 L254.77,408.93 L256.53,407.67 L258.30,406.40 L260.06,405.13 L261.83,403.87 L263.60,402.61 L265.36,401.34 L267.13,400.08 L268.89,398.83 L270.66,397.57 L272.42,396.32 L274.19,395.06 L275.95,393.82 L277.72,392.57 L279.49,391.33 L281.25,390.08 L283.02,388.85 L284.78,387.61 L286.55,386.38 L288.31,385.16 L290.08,383.93 L291.84,382.72 L293.61,381.50 L295.38,380.30 L297.14,379.09 L298.91,377.90 L300.67,376.71 L302.44,375.53 L304.20,374.35 L305.97,373.18 L307.73,372.02 L309.50,370.87 L311.27,369.73 L313.03,368.60 L314.80,367.48 L316.56,366.37 L318.33,365.27 L320.09,364.19 L321.86,363.11 L323.63,362.05 L325.39,361.01 L327.16,359.98 L328.92,358.97 L330.69,357.97 L332.45,356.99 L334.22,356.03 L335.98,355.09 L337.75,354.16 L339.52,353.26 L341.28,352.38 L343.05,351.51 L344.81,350.67 L346.58,349.86 L348.34,349.06 L350.11,348.29 L351.87,347.54 L353.64,346.82 L355.41,346.12 L357.17,345.44 L358.94,344.79 L360.70,344.16 L362.47,343.56 L364.23,342.98 L366.00,342.43 L367.76,341.90 L369.53,341.39 L371.30,340.90 L373.06,340.44 L374.83,340.00 L376.59,339.59 L378.36,339.19 L380.12,338.81 L381.89,338.46 L383.65,338.12 L385.42,337.80 L387.19,337.50 L388.95,337.22 L390.72,336.95 L392.48,336.70 L394.25,336.47 L396.01,336.25 L397.78,336.04 L399.54,335.84 L401.31,335.66 L403.08,335.49 L404.84,335.33 L406.61,335.18 L408.37,335.04 L410.14,334.91 L411.90,334.78 L413.67,334.67 L415.44,334.56 L417.20,334.46 L418.97,334.37 L420.73,334.29 L422.50,334.21 L424.26,334.13 L426.03,334.06 L427.79,334.00 L429.56,333.94 L431.33,333.88 L433.09,333.83 L434.86,333.78 L436.62,333.74 L438.39,333.69 L440.15,333.65 L441.92,333.62 L443.68,333.59 L445.45,333.55" stroke="#0000ff" stroke-width="1.85"/>
<path d="M94.10,542.68 L95.87,541.40 L97.63,540.11 L99.40,538.83 L101.16,537.55 L102.93,536.27 L104.69,534.99 L106.46,533.71 L108.22,532.43 L109.99,531.15 L111.76,529.87 L113.52,528.58 L115.29,527.30 L117.05,526.02 L118.82,524.74 L120.58,523.46 L122.35,522.18 L124.11,520.90 L125.88,519.61 L127.65,518.33 L129.41,517.05 L131.18,515.77 L132.94,514.49 L134.71,513.20 L136.47,511.92 L138.24,510.64 L140.01,509.36 L141.77,508.08 L143.54,506.79 L145.30,505.51 L147.07,504.23 L148.83,502.95 L150.60,501.67 L152.36,500.38 L154.13,499.10 L155.90,497.82 L157.66,496.54 L159.43,495.25 L161.19,493.97 L162.96,492.69 L164.72,491.41 L166.49,490.13 L168.25,488.84 L170.02,487.56 L171.79,486.28 L173.55,485.00 L175.32,483.71 L177.08,482.43 L178.85,481.15 L180.61,479.87 L182.38,478.59 L184.14,477.30 L185.91,476.02 L187.68,474.74 L189.44,473.46 L191.21,472.18 L192.97,470.89 L194.74,469.61 L196.50,468.33 L198.27,467.05 L200.03,465.77 L201.80,464.49 L203.57,463.21 L205.33,461.92 L207.10,460.64 L208.86,459.36 L210.63,458.08 L212.39,456.80 L214.16,455.52 L215.92,454.24 L217.69,452.96 L219.46,451.68 L221.22,450.40 L222.99,449.12 L224.75,447.84 L226.52,446.56 L228.28,445.28 L230.05,444.01 L231.82,442.73 L233.58,441.45 L235.35,440.17 L237.11,438.90 L238.88,437.62 L240.64,436.35 L242.41,435.07 L244.17,433.80 L245.94,432.52 L247.71,431.25 L249.47,429.98 L251.24,428.71 L253.00,427.44 L254.77,426.17 L256.53,424.90 L258.30,423.63 L260.06,422.37 L261.83,421.10 L263.60,419.84 L265.36,418.58 L267.13,417.32 L268.89,416.06 L270.66,414.80 L272.42,413.55 L274.19,412.30 L275.95,411.05 L277.72,409.80 L279.49,408.56 L281.25,407.32 L283.02,406.08 L284.78,404.85 L286.55,403.62 L288.31,402.39 L290.08,401.17 L291.84,399.95 L293.61,398.74 L295.38,397.53 L297.14,396.33 L298.91,395.13 L300.67,393.94 L302.44,392.76 L304.20,391.59 L305.97,390.42 L307.73,389.26 L309.50,388.11 L311.27,386.97 L313.03,385.84 L314.80,384.71 L316.56,383.60 L318.33,382.51 L320.09,381.42 L321.86,380.35 L323.63,379.29 L325.39,378.25 L327.16,377.22 L328.92,376.20 L330.69,375.21 L332.45,374.23 L334.22,373.26 L335.98,372.32 L337.75,371.40 L339.52,370.49 L341.28,369.61 L343.05,368.75 L344.81,367.91 L346.58,367.09 L348.34,366.30 L350.11,365.52 L351.87,364.78 L353.64,364.05 L355.41,363.35 L357.17,362.68 L358.94,362.02 L360.70,361.40 L362.47,360.79 L364.23,360.22 L366.00,359.66 L367.76,359.13 L369.53,358.62 L371.30,358.14 L373.06,357.68 L374.83,357.24 L376.59,356.82 L378.36,356.43 L380.12,356.05 L381.89,355.69 L383.65,355.36 L385.42,355.04 L387.19,354.74 L388.95,354.46 L390.72,354.19 L392.48,353.94 L394.25,353.70 L396.01,353.48 L397.78,353.27 L399.54,353.08 L401.31,352.90 L403.08,352.72 L404.84,352.56 L406.61,352.41 L408.37,352.27 L410.14,352.14 L411.90,352.02 L413.67,351.91 L415.44,351.80 L417.20,351.70 L418.97,351.61 L420.73,351.52 L422.50,351.44 L424.26,351.37 L426.03,351.30 L427.79,351.23 L429.56,351.17 L431.33,351.12 L433.09,351.06 L434.86,351.02 L436.62,350.97 L438.39,350.93 L440.15,350.89 L441.92,350.85 L443.68,350.82 L445.45,350.79" stroke="#0000ff" stroke-width="1.85"/>
<path d="M94.10,559.73 L95.87,558.49 L97.63,557.25 L99.40,556.01 L101.16,554.76 L102.93,553.52 L104.69,552.27 L106.46,551.02 L108.22,549.78 L109.99,548.52 L111.76,547.27 L113.52,546.02 L115.29,544.77 L117.05,543.51 L118.82,542.26 L120.58,541.00 L122.35,539.74 L124.11,538.49 L125.88,537.23 L127.65,535.97 L129.41,534.71 L131.18,533.45 L132.94,532.18 L134.71,530.92 L136.47,529.66 L138.24,528.39 L140.01,527.13 L141.77,525.86 L143.54,524.60 L145.30,523.33 L147.07,522.06 L148.83,520.80 L150.60,519.53 L152.36,518.26 L154.13,516.99 L155.90,515.72 L157.66,514.45 L159.43,513.18 L161.19,511.91 L162.96,510.64 L164.72,509.37 L166.49,508.10 L168.25,506.82 L170.02,505.55 L171.79,504.28 L173.55,503.01 L175.32,501.73 L177.08,500.46 L178.85,499.19 L180.61,497.91 L182.38,496.64 L184.14,495.36 L185.91,494.09 L187.68,492.81 L189.44,491.54 L191.21,490.26 L192.97,488.99 L194.74,487.71 L196.50,486.43 L198.27,485.16 L200.03,483.88 L201.80,482.61 L203.57,481.33 L205.33,480.05 L207.10,478.78 L208.86,477.50 L210.63,476.22 L212.39,474.95 L214.16,473.67 L215.92,472.39 L217.69,471.12 L219.46,469.84 L221.22,468.57 L222.99,467.29 L224.75,466.01 L226.52,464.74 L228.28,463.46 L230.05,462.19 L231.82,460.91 L233.58,459.64 L235.35,458.36 L237.11,457.09 L238.88,455.82 L240.64,454.54 L242.41,453.27 L244.17,452.00 L245.94,450.73 L247.71,449.46 L249.47,448.19 L251.24,446.92 L253.00,445.65 L254.77,444.38 L256.53,443.12 L258.30,441.85 L260.06,440.59 L261.83,439.32 L263.60,438.06 L265.36,436.80 L267.13,435.54 L268.89,434.29 L270.66,433.03 L272.42,431.78 L274.19,430.53 L275.95,429.28 L277.72,428.04 L279.49,426.80 L281.25,425.56 L283.02,424.32 L284.78,423.09 L286.55,421.86 L288.31,420.63 L290.08,419.41 L291.84,418.19 L293.61,416.98 L295.38,415.78 L297.14,414.57 L298.91,413.38 L300.67,412.19 L302.44,411.01 L304.20,409.83 L305.97,408.67 L307.73,407.51 L309.50,406.36 L311.27,405.22 L313.03,404.09 L314.80,402.97 L316.56,401.86 L318.33,400.76 L320.09,399.68 L321.86,398.60 L323.63,397.55 L325.39,396.50 L327.16,395.47 L328.92,394.46 L330.69,393.46 L332.45,392.48 L334.22,391.52 L335.98,390.58 L337.75,389.66 L339.52,388.75 L341.28,387.87 L343.05,387.01 L344.81,386.17 L346.58,385.35 L348.34,384.56 L350.11,383.79 L351.87,383.04 L353.64,382.32 L355.41,381.62 L357.17,380.94 L358.94,380.29 L360.70,379.66 L362.47,379.06 L364.23,378.48 L366.00,377.93 L367.76,377.40 L369.53,376.89 L371.30,376.41 L373.06,375.94 L374.83,375.51 L376.59,375.09 L378.36,374.69 L380.12,374.32 L381.89,373.96 L383.65,373.62 L385.42,373.31 L387.19,373.01 L388.95,372.72 L390.72,372.46 L392.48,372.21 L394.25,371.97 L396.01,371.75 L397.78,371.54 L399.54,371.34 L401.31,371.16 L403.08,370.99 L404.84,370.83 L406.61,370.68 L408.37,370.54 L410.14,370.41 L411.90,370.29 L413.67,370.17 L415.44,370.07 L417.20,369.97 L418.97,369.87 L420.73,369.79 L422.50,369.71 L424.26,369.63 L426.03,369.56 L427.79,369.50 L429.56,369.44 L431.33,369.38 L433.09,369.33 L434.86,369.28 L436.62,369.24 L438.39,369.20 L440.15,369.16 L441.92,369.12 L443.68,369.09 L445.45,369.06" stroke="#0000ff" stroke-width="1.85"/>
<path d="M94.10,574.65 L95.87,573.73 L97.63,572.81 L99.40,571.88 L101.16,570.94 L102.93,569.99 L104.69,569.03 L106.46,568.06 L108.22,567.09 L109.99,566.10 L111.76,565.11 L113.52,564.11 L115.29,563.11 L117.05,562.09 L118.82,561.07 L120.58,560.05 L122.35,559.01 L124.11,557.97 L125.88,556.92 L127.65,555.86 L129.41,554.80 L131.18,553.74 L132.94,552.66 L134.71,551.58 L136.47,550.50 L138.24,549.40 L140.01,548.31 L141.77,547.20 L143.54,546.10 L145.30,544.98 L147.07,543.86 L148.83,542.74 L150.60,541.61 L152.36,540.48 L154.13,539.34 L155.90,538.20 L157.66,537.06 L159.43,535.91 L161.19,534.75 L162.96,533.60 L164.72,532.43 L166.49,531.27 L168.25,530.10 L170.02,528.93 L171.79,527.75 L173.55,526.57 L175.32,525.39 L177.08,524.20 L178.85,523.02 L180.61,521.82 L182.38,520.63 L184.14,519.43 L185.91,518.23 L187.68,517.03 L189.44,515.82 L191.21,514.62 L192.97,513.41 L194.74,512.20 L196.50,510.98 L198.27,509.77 L200.03,508.55 L201.80,507.33 L203.57,506.11 L205.33,504.88 L207.10,503.66 L208.86,502.43 L210.63,501.20 L212.39,499.97 L214.16,498.74 L215.92,497.50 L217.69,496.27 L219.46,495.03 L221.22,493.80 L222.99,492.56 L224.75,491.32 L226.52,490.08 L228.28,488.84 L230.05,487.59 L231.82,486.35 L233.58,485.11 L235.35,483.86 L237.11,482.62 L238.88,481.37 L240.64,480.13 L242.41,478.88 L244.17,477.63 L245.94,476.39 L247.71,475.14 L249.47,473.89 L251.24,472.65 L253.00,471.40 L254.77,470.15 L256.53,468.91 L258.30,467.66 L260.06,466.42 L261.83,465.17 L263.60,463.93 L265.36,462.68 L267.13,461.44 L268.89,460.20 L270.66,458.96 L272.42,457.73 L274.19,456.49 L275.95,455.26 L277.72,454.02 L279.49,452.79 L281.25,451.57 L283.02,450.34 L284.78,449.12 L286.55,447.90 L288.31,446.69 L290.08,445.48 L291.84,444.27 L293.61,443.07 L295.38,441.88 L297.14,440.68 L298.91,439.50 L300.67,438.32 L302.44,437.15 L304.20,435.98 L305.97,434.82 L307.73,433.67 L309.50,432.53 L311.27,431.40 L313.03,430.27 L314.80,429.16 L316.56,428.06 L318.33,426.97 L320.09,425.89 L321.86,424.82 L323.63,423.77 L325.39,422.73 L327.16,421.71 L328.92,420.70 L330.69,419.71 L332.45,418.74 L334.22,417.78 L335.98,416.84 L337.75,415.92 L339.52,415.03 L341.28,414.15 L343.05,413.29 L344.81,412.45 L346.58,411.64 L348.34,410.85 L350.11,410.08 L351.87,409.34 L353.64,408.62 L355.41,407.92 L357.17,407.25 L358.94,406.60 L360.70,405.98 L362.47,405.38 L364.23,404.80 L366.00,404.25 L367.76,403.72 L369.53,403.21 L371.30,402.73 L373.06,402.27 L374.83,401.84 L376.59,401.42 L378.36,401.03 L380.12,400.65 L381.89,400.30 L383.65,399.96 L385.42,399.64 L387.19,399.34 L388.95,399.06 L390.72,398.80 L392.48,398.55 L394.25,398.31 L396.01,398.09 L397.78,397.88 L399.54,397.69 L401.31,397.51 L403.08,397.34 L404.84,397.18 L406.61,397.03 L408.37,396.89 L410.14,396.76 L411.90,396.63 L413.67,396.52 L415.44,396.41 L417.20,396.31 L418.97,396.22 L420.73,396.14 L422.50,396.06 L424.26,395.98 L426.03,395.91 L427.79,395.85 L429.56,395.79 L431.33,395.73 L433.09,395.68 L434.86,395.63 L436.62,395.59 L438.39,395.54 L440.15,395.51 L441.92,395.47 L443.68,395.44 L445.45,395.41" stroke="#0000ff" stroke-width="1.85"/>
<path d="M94.10,568.41 L95.87,568.16 L97.63,567.91 L99.40,567.65 L101.16,567.38 L102.93,567.10 L104.69,566.82 L106.46,566.52 L108.22,566.22 L109.99,565.92 L111.76,565.60 L113.52,565.28 L115.29,564.94 L117.05,564.60 L118.82,564.25 L120.58,563.89 L122.35,563.52 L124.11,563.15 L125.88,562.76 L127.65,562.36 L129.41,561.96 L131.18,561.54 L132.94,561.12 L134.71,560.68 L136.47,560.24 L138.24,559.78 L140.01,559.32 L141.77,558.84 L143.54,558.36 L145.30,557.86 L147.07,557.35 L148.83,556.84 L150.60,556.31 L152.36,555.77 L154.13,555.22 L155.90,554.66 L157.66,554.08 L159.43,553.50 L161.19,552.91 L162.96,552.30 L164.72,551.69 L166.49,551.06 L168.25,550.42 L170.02,549.77 L171.79,549.11 L173.55,548.44 L175.32,547.76 L177.08,547.06 L178.85,546.36 L180.61,545.64 L182.38,544.92 L184.14,544.18 L185.91,543.43 L187.68,542.68 L189.44,541.91 L191.21,541.13 L192.97,540.34 L194.74,539.54 L196.50,538.72 L198.27,537.90 L200.03,537.07 L201.80,536.23 L203.57,535.38 L205.33,534.52 L207.10,533.65 L208.86,532.77 L210.63,531.88 L212.39,530.98 L214.16,530.08 L215.92,529.16 L217.69,528.24 L219.46,527.30 L221.22,526.36 L222.99,525.41 L224.75,524.46 L226.52,523.49 L228.28,522.52 L230.05,521.54 L231.82,520.55 L233.58,519.55 L235.35,518.55 L237.11,517.54 L238.88,516.52 L240.64,515.50 L242.41,514.47 L244.17,513.44 L245.94,512.40 L247.71,511.35 L249.47,510.30 L251.24,509.24 L253.00,508.18 L254.77,507.12 L256.53,506.04 L258.30,504.97 L260.06,503.89 L261.83,502.81 L263.60,501.72 L265.36,500.63 L267.13,499.53 L268.89,498.44 L270.66,497.34 L272.42,496.24 L274.19,495.13 L275.95,494.03 L277.72,492.92 L279.49,491.81 L281.25,490.70 L283.02,489.59 L284.78,488.48 L286.55,487.37 L288.31,486.27 L290.08,485.16 L291.84,484.05 L293.61,482.95 L295.38,481.84 L297.14,480.74 L298.91,479.65 L300.67,478.55 L302.44,477.47 L304.20,476.38 L305.97,475.30 L307.73,474.23 L309.50,473.16 L311.27,472.10 L313.03,471.05 L314.80,470.01 L316.56,468.97 L318.33,467.95 L320.09,466.93 L321.86,465.93 L323.63,464.94 L325.39,463.96 L327.16,462.99 L328.92,462.04 L330.69,461.10 L332.45,460.18 L334.22,459.27 L335.98,458.38 L337.75,457.51 L339.52,456.66 L341.28,455.82 L343.05,455.01 L344.81,454.21 L346.58,453.44 L348.34,452.68 L350.11,451.95 L351.87,451.24 L353.64,450.55 L355.41,449.89 L357.17,449.25 L358.94,448.63 L360.70,448.03 L362.47,447.45 L364.23,446.90 L366.00,446.37 L367.76,445.87 L369.53,445.38 L371.30,444.92 L373.06,444.48 L374.83,444.05 L376.59,443.65 L378.36,443.27 L380.12,442.91 L381.89,442.57 L383.65,442.25 L385.42,441.94 L387.19,441.65 L388.95,441.38 L390.72,441.12 L392.48,440.88 L394.25,440.65 L396.01,440.43 L397.78,440.23 L399.54,440.04 L401.31,439.87 L403.08,439.70 L404.84,439.54 L406.61,439.40 L408.37,439.26 L410.14,439.13 L411.90,439.01 L413.67,438.90 L415.44,438.80 L417.20,438.70 L418.97,438.61 L420.73,438.53 L422.50,438.45 L424.26,438.38 L426.03,438.31 L427.79,438.24 L429.56,438.18 L431.33,438.13 L433.09,438.08 L434.86,438.03 L436.62,437.99 L438.39,437.95 L440.15,437.91 L441.92,437.87 L443.68,437.84 L445.45,437.81" stroke="#0000ff" stroke-width="1.85"/>
<path d="M94.10,403.08 L95.83,403.04 L97.56,402.99 L99.30,402.94 L101.03,402.89 L102.76,402.84 L104.49,402.80 L106.23,402.75 L107.96,402.70 L109.69,402.66 L111.42,402.61 L113.16,402.56 L114.89,402.52 L116.62,402.47 L118.35,402.43 L120.09,402.39 L121.82,402.34 L123.55,402.30 L125.28,402.25 L127.02,402.21 L128.75,402.17 L130.48,402.13 L132.21,402.08 L133.95,402.04 L135.68,402.01 L137.41,401.98 L139.14,401.96 L140.88,401.94 L142.61,401.92 L144.34,401.91 L146.07,401.89 L147.81,401.88 L149.54,401.86 L151.27,401.85 L153.00,401.83 L154.74,401.80 L156.47,401.77 L158.20,401.74 L159.93,401.70 L161.67,401.65 L163.40,401.59 L165.13,401.53 L166.86,401.45 L168.60,401.37 L170.33,401.27 L172.06,401.16 L173.79,401.05 L175.53,400.94 L177.26,400.82 L178.99,400.70 L180.72,400.58 L182.46,400.45 L184.19,400.31 L185.92,400.17 L187.65,400.02 L189.39,399.87 L191.12,399.71 L192.85,399.54 L194.58,399.36 L196.32,399.18 L198.05,398.98 L199.78,398.78 L201.51,398.56 L203.25,398.34 L204.98,398.10 L206.71,397.85 L208.44,397.59 L210.18,397.32 L211.91,397.04 L213.64,396.76 L215.37,396.48 L217.11,396.18 L218.84,395.89 L220.57,395.58 L222.30,395.27 L224.04,394.95 L225.77,394.62 L227.50,394.29 L229.23,393.95 L230.97,393.59 L232.70,393.23 L234.43,392.85 L236.16,392.47 L237.90,392.07 L239.63,391.66 L241.36,391.24 L243.09,390.81 L244.83,390.36 L246.56,389.90 L248.29,389.42 L250.02,388.93 L251.76,388.43 L253.49,387.91 L255.22,387.37 L256.95,386.81 L258.69,386.24 L260.42,385.65 L262.15,385.04 L263.88,384.41 L265.62,383.76 L267.35,383.10 L269.08,382.42 L270.81,381.73 L272.55,381.03 L274.28,380.32 L276.01,379.60 L277.74,378.88 L279.48,378.15 L281.21,377.42 L282.94,376.68 L284.67,375.94 L286.41,375.19 L288.14,374.43 L289.87,373.67 L291.60,372.90 L293.34,372.11 L295.07,371.32 L296.80,370.52 L298.53,369.74 L300.27,368.95 L302.00,368.17 L303.73,367.39 L305.46,366.60 L307.20,365.81 L308.93,365.01 L310.66,364.20 L312.39,363.38 L314.13,362.55 L315.86,361.70 L317.59,360.84 L319.32,359.97 L321.06,359.10 L322.79,358.23 L324.52,357.37 L326.25,356.51 L327.99,355.66 L329.72,354.82 L331.45,353.98 L333.18,353.16 L334.92,352.34 L336.65,351.54 L338.38,350.74 L340.11,349.96 L341.85,349.20 L343.58,348.44 L345.31,347.70 L347.04,346.98 L348.78,346.28 L350.51,345.60 L352.24,344.93 L353.97,344.29 L355.71,343.67 L357.44,343.08 L359.17,342.51 L360.90,341.96 L362.64,341.44 L364.37,340.95 L366.10,340.49 L367.83,340.06 L369.57,339.66 L371.30,339.28 L373.03,338.93 L374.76,338.59 L376.50,338.28 L378.23,337.98 L379.96,337.69 L381.69,337.42 L383.43,337.15 L385.16,336.90 L386.89,336.64" stroke="#808080" stroke-width="1.85"/>
<path d="M94.10,420.32 L95.83,420.27 L97.56,420.22 L99.30,420.17 L101.03,420.12 L102.76,420.08 L104.49,420.03 L106.23,419.98 L107.96,419.94 L109.69,419.89 L111.42,419.84 L113.16,419.80 L114.89,419.75 L116.62,419.71 L118.35,419.66 L120.09,419.62 L121.82,419.58 L123.55,419.53 L125.28,419.49 L127.02,419.45 L128.75,419.40 L130.48,419.36 L132.21,419.32 L133.95,419.28 L135.68,419.25 L137.41,419.22 L139.14,419.20 L140.88,419.18 L142.61,419.16 L144.34,419.14 L146.07,419.13 L147.81,419.11 L149.54,419.10 L151.27,419.08 L153.00,419.06 L154.74,419.04 L156.47,419.01 L158.20,418.97 L159.93,418.93 L161.67,418.89 L163.40,418.83 L165.13,418.76 L166.86,418.69 L168.60,418.60 L170.33,418.51 L172.06,418.40 L173.79,418.29 L175.53,418.17 L177.26,418.06 L178.99,417.93 L180.72,417.81 L182.46,417.68 L184.19,417.54 L185.92,417.40 L187.65,417.26 L189.39,417.10 L191.12,416.94 L192.85,416.77 L194.58,416.60 L196.32,416.41 L198.05,416.22 L199.78,416.01 L201.51,415.80 L203.25,415.57 L204.98,415.34 L206.71,415.09 L208.44,414.83 L210.18,414.55 L211.91,414.28 L213.64,414.00 L215.37,413.71 L217.11,413.42 L218.84,413.12 L220.57,412.82 L222.30,412.50 L224.04,412.19 L225.77,411.86 L227.50,411.52 L229.23,411.18 L230.97,410.83 L232.70,410.46 L234.43,410.09 L236.16,409.70 L237.90,409.31 L239.63,408.90 L241.36,408.48 L243.09,408.04 L244.83,407.60 L246.56,407.13 L248.29,406.66 L250.02,406.17 L251.76,405.66 L253.49,405.14 L255.22,404.60 L256.95,404.05 L258.69,403.47 L260.42,402.88 L262.15,402.27 L263.88,401.64 L265.62,401.00 L267.35,400.33 L269.08,399.66 L270.81,398.97 L272.55,398.27 L274.28,397.56 L276.01,396.84 L277.74,396.11 L279.48,395.38 L281.21,394.65 L282.94,393.91 L284.67,393.17 L286.41,392.42 L288.14,391.67 L289.87,390.91 L291.60,390.13 L293.34,389.35 L295.07,388.56 L296.80,387.76 L298.53,386.97 L300.27,386.19 L302.00,385.40 L303.73,384.62 L305.46,383.83 L307.20,383.04 L308.93,382.25 L310.66,381.44 L312.39,380.62 L314.13,379.79 L315.86,378.94 L317.59,378.07 L319.32,377.20 L321.06,376.33 L322.79,375.46 L324.52,374.60 L326.25,373.75 L327.99,372.89 L329.72,372.05 L331.45,371.22 L333.18,370.39 L334.92,369.58 L336.65,368.77 L338.38,367.98 L340.11,367.20 L341.85,366.43 L343.58,365.68 L345.31,364.94 L347.04,364.22 L348.78,363.52 L350.51,362.83 L352.24,362.17 L353.97,361.53 L355.71,360.91 L357.44,360.31 L359.17,359.74 L360.90,359.20 L362.64,358.68 L364.37,358.19 L366.10,357.73 L367.83,357.30 L369.57,356.89 L371.30,356.52 L373.03,356.16 L374.76,355.83 L376.50,355.51 L378.23,355.21 L379.96,354.93 L381.69,354.65 L383.43,354.39 L385.16,354.13 L386.89,353.88" stroke="#808080" stroke-width="1.85"/>
<path d="M94.10,438.54 L95.83,438.49 L97.56,438.44 L99.30,438.40 L101.03,438.35 L102.76,438.31 L104.49,438.26 L106.23,438.21 L107.96,438.17 L109.69,438.12 L111.42,438.08 L113.16,438.04 L114.89,437.99 L116.62,437.95 L118.35,437.90 L120.09,437.86 L121.82,437.82 L123.55,437.78 L125.28,437.73 L127.02,437.69 L128.75,437.65 L130.48,437.61 L132.21,437.57 L133.95,437.53 L135.68,437.50 L137.41,437.48 L139.14,437.45 L140.88,437.44 L142.61,437.42 L144.34,437.41 L146.07,437.39 L147.81,437.38 L149.54,437.36 L151.27,437.34 L153.00,437.32 L154.74,437.30 L156.47,437.27 L158.20,437.23 L159.93,437.19 L161.67,437.14 L163.40,437.08 L165.13,437.01 L166.86,436.94 L168.60,436.85 L170.33,436.75 L172.06,436.64 L173.79,436.53 L175.53,436.42 L177.26,436.30 L178.99,436.18 L180.72,436.05 L182.46,435.92 L184.19,435.79 L185.92,435.65 L187.65,435.50 L189.39,435.35 L191.12,435.19 L192.85,435.02 L194.58,434.84 L196.32,434.65 L198.05,434.46 L199.78,434.25 L201.51,434.04 L203.25,433.81 L204.98,433.58 L206.71,433.33 L208.44,433.07 L210.18,432.79 L211.91,432.52 L213.64,432.24 L215.37,431.95 L217.11,431.66 L218.84,431.36 L220.57,431.06 L222.30,430.75 L224.04,430.43 L225.77,430.10 L227.50,429.77 L229.23,429.42 L230.97,429.07 L232.70,428.71 L234.43,428.33 L236.16,427.95 L237.90,427.55 L239.63,427.14 L241.36,426.72 L243.09,426.29 L244.83,425.84 L246.56,425.38 L248.29,424.90 L250.02,424.41 L251.76,423.91 L253.49,423.39 L255.22,422.85 L256.95,422.29 L258.69,421.72 L260.42,421.13 L262.15,420.52 L263.88,419.89 L265.62,419.24 L267.35,418.58 L269.08,417.90 L270.81,417.21 L272.55,416.51 L274.28,415.80 L276.01,415.09 L277.74,414.36 L279.48,413.63 L281.21,412.90 L282.94,412.16 L284.67,411.42 L286.41,410.67 L288.14,409.92 L289.87,409.16 L291.60,408.38 L293.34,407.60 L295.07,406.81 L296.80,406.01 L298.53,405.22 L300.27,404.44 L302.00,403.66 L303.73,402.87 L305.46,402.09 L307.20,401.30 L308.93,400.50 L310.66,399.69 L312.39,398.88 L314.13,398.04 L315.86,397.20 L317.59,396.33 L319.32,395.46 L321.06,394.59 L322.79,393.72 L324.52,392.86 L326.25,392.00 L327.99,391.15 L329.72,390.31 L331.45,389.48 L333.18,388.65 L334.92,387.84 L336.65,387.03 L338.38,386.24 L340.11,385.46 L341.85,384.69 L343.58,383.94 L345.31,383.20 L347.04,382.48 L348.78,381.78 L350.51,381.09 L352.24,380.43 L353.97,379.79 L355.71,379.17 L357.44,378.58 L359.17,378.01 L360.90,377.46 L362.64,376.94 L364.37,376.45 L366.10,375.99 L367.83,375.56 L369.57,375.16 L371.30,374.78 L373.03,374.43 L374.76,374.09 L376.50,373.78 L378.23,373.48 L379.96,373.19 L381.69,372.92 L383.43,372.66 L385.16,372.40 L386.89,372.15" stroke="#808080" stroke-width="1.85"/>
<path d="M94.10,464.01 L95.83,463.97 L97.56,463.94 L99.30,463.91 L101.03,463.88 L102.76,463.84 L104.49,463.81 L106.23,463.78 L107.96,463.74 L109.69,463.71 L111.42,463.68 L113.16,463.64 L114.89,463.61 L116.62,463.58 L118.35,463.54 L120.09,463.51 L121.82,463.47 L123.55,463.44 L125.28,463.42 L127.02,463.39 L128.75,463.37 L130.48,463.35 L132.21,463.34 L133.95,463.32 L135.68,463.31 L137.41,463.30 L139.14,463.29 L140.88,463.27 L142.61,463.26 L144.34,463.24 L146.07,463.23 L147.81,463.20 L149.54,463.18 L151.27,463.15 L153.00,463.12 L154.74,463.08 L156.47,463.03 L158.20,462.98 L159.93,462.92 L161.67,462.85 L163.40,462.78 L165.13,462.69 L166.86,462.59 L168.60,462.49 L170.33,462.39 L172.06,462.28 L173.79,462.17 L175.53,462.06 L177.26,461.94 L178.99,461.82 L180.72,461.70 L182.46,461.56 L184.19,461.43 L185.92,461.28 L187.65,461.13 L189.39,460.98 L191.12,460.81 L192.85,460.64 L194.58,460.46 L196.32,460.27 L198.05,460.07 L199.78,459.86 L201.51,459.64 L203.25,459.41 L204.98,459.17 L206.71,458.92 L208.44,458.65 L210.18,458.39 L211.91,458.12 L213.64,457.84 L215.37,457.56 L217.11,457.27 L218.84,456.98 L220.57,456.68 L222.30,456.37 L224.04,456.05 L225.77,455.73 L227.50,455.40 L229.23,455.05 L230.97,454.70 L232.70,454.34 L234.43,453.97 L236.16,453.58 L237.90,453.19 L239.63,452.78 L241.36,452.36 L243.09,451.93 L244.83,451.48 L246.56,451.02 L248.29,450.54 L250.02,450.05 L251.76,449.55 L253.49,449.03 L255.22,448.49 L256.95,447.94 L258.69,447.37 L260.42,446.77 L262.15,446.16 L263.88,445.54 L265.62,444.89 L267.35,444.23 L269.08,443.56 L270.81,442.88 L272.55,442.18 L274.28,441.48 L276.01,440.76 L277.74,440.04 L279.48,439.32 L281.21,438.59 L282.94,437.86 L284.67,437.13 L286.41,436.38 L288.14,435.63 L289.87,434.87 L291.60,434.11 L293.34,433.33 L295.07,432.54 L296.80,431.75 L298.53,430.97 L300.27,430.19 L302.00,429.41 L303.73,428.63 L305.46,427.85 L307.20,427.07 L308.93,426.27 L310.66,425.47 L312.39,424.65 L314.13,423.82 L315.86,422.97 L317.59,422.11 L319.32,421.24 L321.06,420.38 L322.79,419.51 L324.52,418.66 L326.25,417.80 L327.99,416.96 L329.72,416.13 L331.45,415.30 L333.18,414.49 L334.92,413.69 L336.65,412.90 L338.38,412.12 L340.11,411.36 L341.85,410.61 L343.58,409.87 L345.31,409.16 L347.04,408.46 L348.78,407.77 L350.51,407.11 L352.24,406.47 L353.97,405.85 L355.71,405.25 L357.44,404.68 L359.17,404.13 L360.90,403.61 L362.64,403.11 L364.37,402.64 L366.10,402.20 L367.83,401.79 L369.57,401.40 L371.30,401.04 L373.03,400.70 L374.76,400.38 L376.50,400.08 L378.23,399.79 L379.96,399.51 L381.69,399.25 L383.43,398.99 L385.16,398.74 L386.89,398.49" stroke="#808080" stroke-width="1.85"/>
<path d="M94.10,501.09 L95.83,501.07 L97.56,501.05 L99.30,501.04 L101.03,501.02 L102.76,501.01 L104.49,501.01 L106.23,501.00 L107.96,501.00 L109.69,500.99 L111.42,500.99 L113.16,500.99 L114.89,501.00 L116.62,501.00 L118.35,501.00 L120.09,501.01 L121.82,501.01 L123.55,501.02 L125.28,501.02 L127.02,501.02 L128.75,501.03 L130.48,501.03 L132.21,501.03 L133.95,501.03 L135.68,501.03 L137.41,501.03 L139.14,501.02 L140.88,501.01 L142.61,501.00 L144.34,500.99 L146.07,500.97 L147.81,500.95 L149.54,500.93 L151.27,500.90 L153.00,500.87 L154.74,500.83 L156.47,500.79 L158.20,500.74 L159.93,500.69 L161.67,500.63 L163.40,500.56 L165.13,500.49 L166.86,500.41 L168.60,500.33 L170.33,500.24 L172.06,500.13 L173.79,500.03 L175.53,499.91 L177.26,499.79 L178.99,499.67 L180.72,499.54 L182.46,499.40 L184.19,499.26 L185.92,499.11 L187.65,498.96 L189.39,498.81 L191.12,498.65 L192.85,498.49 L194.58,498.32 L196.32,498.14 L198.05,497.96 L199.78,497.78 L201.51,497.59 L203.25,497.39 L204.98,497.19 L206.71,496.98 L208.44,496.77 L210.18,496.55 L211.91,496.32 L213.64,496.08 L215.37,495.83 L217.11,495.58 L218.84,495.32 L220.57,495.05 L222.30,494.76 L224.04,494.48 L225.77,494.18 L227.50,493.87 L229.23,493.55 L230.97,493.22 L232.70,492.88 L234.43,492.53 L236.16,492.16 L237.90,491.79 L239.63,491.40 L241.36,491.01 L243.09,490.60 L244.83,490.18 L246.56,489.74 L248.29,489.29 L250.02,488.83 L251.76,488.36 L253.49,487.87 L255.22,487.36 L256.95,486.85 L258.69,486.32 L260.42,485.78 L262.15,485.23 L263.88,484.67 L265.62,484.10 L267.35,483.51 L269.08,482.92 L270.81,482.32 L272.55,481.71 L274.28,481.10 L276.01,480.48 L277.74,479.85 L279.48,479.21 L281.21,478.57 L282.94,477.91 L284.67,477.25 L286.41,476.57 L288.14,475.87 L289.87,475.17 L291.60,474.45 L293.34,473.74 L295.07,473.03 L296.80,472.32 L298.53,471.60 L300.27,470.89 L302.00,470.17 L303.73,469.44 L305.46,468.71 L307.20,467.96 L308.93,467.21 L310.66,466.44 L312.39,465.66 L314.13,464.85 L315.86,464.04 L317.59,463.22 L319.32,462.41 L321.06,461.60 L322.79,460.79 L324.52,459.99 L326.25,459.19 L327.99,458.40 L329.72,457.62 L331.45,456.84 L333.18,456.07 L334.92,455.32 L336.65,454.57 L338.38,453.84 L340.11,453.11 L341.85,452.40 L343.58,451.70 L345.31,451.02 L347.04,450.36 L348.78,449.71 L350.51,449.08 L352.24,448.46 L353.97,447.87 L355.71,447.30 L357.44,446.76 L359.17,446.24 L360.90,445.74 L362.64,445.26 L364.37,444.82 L366.10,444.40 L367.83,444.01 L369.57,443.64 L371.30,443.29 L373.03,442.96 L374.76,442.65 L376.50,442.36 L378.23,442.08 L379.96,441.81 L381.69,441.55 L383.43,441.30 L385.16,441.05 L386.89,440.80" stroke="#808080" stroke-width="1.85"/>
<path d="M94.10,402.68 L95.83,402.64 L97.56,402.59 L99.30,402.54 L101.03,402.48 L102.76,402.43 L104.49,402.38 L106.23,402.32 L107.96,402.26 L109.69,402.20 L111.42,402.14 L113.16,402.08 L114.89,402.01 L116.62,401.95 L118.35,401.88 L120.09,401.81 L121.82,401.74 L123.55,401.67 L125.28,401.60 L127.02,401.52 L128.75,401.45 L130.48,401.37 L132.21,401.29 L133.95,401.21 L135.68,401.13 L137.41,401.05 L139.14,400.98 L140.88,400.90 L142.61,400.82 L144.34,400.75 L146.07,400.67 L147.81,400.59 L149.54,400.50 L151.27,400.42 L153.00,400.33 L154.74,400.24 L156.47,400.14 L158.20,400.05 L159.93,399.94 L161.67,399.83 L163.40,399.72 L165.13,399.59 L166.86,399.47 L168.60,399.33 L170.33,399.19 L172.06,399.04 L173.79,398.89 L175.53,398.74 L177.26,398.60 L178.99,398.45 L180.72,398.30 L182.46,398.14 L184.19,397.99 L185.92,397.83 L187.65,397.66 L189.39,397.48 L191.12,397.30 L192.85,397.12 L194.58,396.92 L196.32,396.71 L198.05,396.49 L199.78,396.27 L201.51,396.02 L203.25,395.77 L204.98,395.50 L206.71,395.22 L208.44,394.92 L210.18,394.60 L211.91,394.27 L213.64,393.93 L215.37,393.58 L217.11,393.23 L218.84,392.86 L220.57,392.48 L222.30,392.09 L224.04,391.70 L225.77,391.29 L227.50,390.88 L229.23,390.47 L230.97,390.04 L232.70,389.61 L234.43,389.18 L236.16,388.73 L237.90,388.29 L239.63,387.84 L241.36,387.38 L243.09,386.92 L244.83,386.46 L246.56,385.99 L248.29,385.53 L250.02,385.06 L251.76,384.59 L253.49,384.11 L255.22,383.62 L256.95,383.12 L258.69,382.61 L260.42,382.07 L262.15,381.51 L263.88,380.93 L265.62,380.33 L267.35,379.72 L269.08,379.10 L270.81,378.46 L272.55,377.81 L274.28,377.14 L276.01,376.46 L277.74,375.77 L279.48,375.07 L281.21,374.37 L282.94,373.66 L284.67,372.94 L286.41,372.21 L288.14,371.47 L289.87,370.73 L291.60,369.97 L293.34,369.20 L295.07,368.42 L296.80,367.63 L298.53,366.84 L300.27,366.05 L302.00,365.25 L303.73,364.45 L305.46,363.65 L307.20,362.85 L308.93,362.05 L310.66,361.24 L312.39,360.44 L314.13,359.64 L315.86,358.84 L317.59,358.04 L319.32,357.25 L321.06,356.46 L322.79,355.68 L324.52,354.91 L326.25,354.14 L327.99,353.38 L329.72,352.63 L331.45,351.89 L333.18,351.17 L334.92,350.45 L336.65,349.74 L338.38,349.05 L340.11,348.37 L341.85,347.70 L343.58,347.05 L345.31,346.42 L347.04,345.81 L348.78,345.21 L350.51,344.63 L352.24,344.07 L353.97,343.53 L355.71,343.00 L357.44,342.50 L359.17,342.01 L360.90,341.55 L362.64,341.10 L364.37,340.67 L366.10,340.26 L367.83,339.88 L369.57,339.52 L371.30,339.19 L373.03,338.87 L374.76,338.57 L376.50,338.29 L378.23,338.01 L379.96,337.75 L381.69,337.49 L383.43,337.24 L385.16,336.99 L386.89,336.74" stroke="#ff00ff" stroke-width="1.85"/>
<path d="M94.10,419.92 L95.83,419.87 L97.56,419.82 L99.30,419.77 L101.03,419.72 L102.76,419.66 L104.49,419.61 L106.23,419.55 L107.96,419.49 L109.69,419.43 L111.42,419.37 L113.16,419.31 L114.89,419.25 L116.62,419.18 L118.35,419.11 L120.09,419.04 L121.82,418.97 L123.55,418.90 L125.28,418.83 L127.02,418.76 L128.75,418.68 L130.48,418.60 L132.21,418.52 L133.95,418.44 L135.68,418.36 L137.41,418.29 L139.14,418.21 L140.88,418.13 L142.61,418.06 L144.34,417.98 L146.07,417.90 L147.81,417.82 L149.54,417.74 L151.27,417.65 L153.00,417.57 L154.74,417.47 L156.47,417.38 L158.20,417.28 L159.93,417.17 L161.67,417.07 L163.40,416.95 L165.13,416.83 L166.86,416.70 L168.60,416.56 L170.33,416.42 L172.06,416.27 L173.79,416.12 L175.53,415.98 L177.26,415.83 L178.99,415.68 L180.72,415.53 L182.46,415.38 L184.19,415.22 L185.92,415.06 L187.65,414.89 L189.39,414.72 L191.12,414.54 L192.85,414.35 L194.58,414.15 L196.32,413.95 L198.05,413.73 L199.78,413.50 L201.51,413.26 L203.25,413.00 L204.98,412.73 L206.71,412.45 L208.44,412.15 L210.18,411.83 L211.91,411.51 L213.64,411.17 L215.37,410.82 L217.11,410.46 L218.84,410.09 L220.57,409.71 L222.30,409.33 L224.04,408.93 L225.77,408.53 L227.50,408.12 L229.23,407.70 L230.97,407.28 L232.70,406.85 L234.43,406.41 L236.16,405.97 L237.90,405.52 L239.63,405.07 L241.36,404.61 L243.09,404.16 L244.83,403.69 L246.56,403.23 L248.29,402.76 L250.02,402.29 L251.76,401.82 L253.49,401.34 L255.22,400.86 L256.95,400.36 L258.69,399.84 L260.42,399.31 L262.15,398.75 L263.88,398.17 L265.62,397.57 L267.35,396.96 L269.08,396.33 L270.81,395.69 L272.55,395.04 L274.28,394.38 L276.01,393.70 L277.74,393.01 L279.48,392.31 L281.21,391.60 L282.94,390.89 L284.67,390.17 L286.41,389.45 L288.14,388.71 L289.87,387.96 L291.60,387.21 L293.34,386.44 L295.07,385.66 L296.80,384.87 L298.53,384.08 L300.27,383.28 L302.00,382.48 L303.73,381.69 L305.46,380.89 L307.20,380.08 L308.93,379.28 L310.66,378.48 L312.39,377.68 L314.13,376.88 L315.86,376.08 L317.59,375.28 L319.32,374.48 L321.06,373.70 L322.79,372.92 L324.52,372.14 L326.25,371.38 L327.99,370.62 L329.72,369.87 L331.45,369.13 L333.18,368.40 L334.92,367.68 L336.65,366.98 L338.38,366.29 L340.11,365.60 L341.85,364.94 L343.58,364.29 L345.31,363.66 L347.04,363.04 L348.78,362.45 L350.51,361.87 L352.24,361.31 L353.97,360.76 L355.71,360.24 L357.44,359.74 L359.17,359.25 L360.90,358.78 L362.64,358.33 L364.37,357.90 L366.10,357.50 L367.83,357.12 L369.57,356.76 L371.30,356.42 L373.03,356.11 L374.76,355.81 L376.50,355.52 L378.23,355.25 L379.96,354.99 L381.69,354.73 L383.43,354.48 L385.16,354.23 L386.89,353.98" stroke="#ff00ff" stroke-width="1.85"/>
<path d="M94.10,438.14 L95.83,438.09 L97.56,438.04 L99.30,437.99 L101.03,437.94 L102.76,437.89 L104.49,437.83 L106.23,437.77 L107.96,437.72 L109.69,437.66 L111.42,437.60 L113.16,437.53 L114.89,437.47 L116.62,437.41 L118.35,437.34 L120.09,437.27 L121.82,437.20 L123.55,437.13 L125.28,437.06 L127.02,436.98 L128.75,436.91 L130.48,436.83 L132.21,436.75 L133.95,436.67 L135.68,436.60 L137.41,436.52 L139.14,436.45 L140.88,436.37 L142.61,436.30 L144.34,436.22 L146.07,436.14 L147.81,436.06 L149.54,435.98 L151.27,435.89 L153.00,435.81 L154.74,435.71 L156.47,435.62 L158.20,435.52 L159.93,435.41 L161.67,435.30 L163.40,435.19 L165.13,435.06 L166.86,434.94 L168.60,434.80 L170.33,434.66 L172.06,434.51 L173.79,434.36 L175.53,434.22 L177.26,434.07 L178.99,433.92 L180.72,433.77 L182.46,433.62 L184.19,433.46 L185.92,433.30 L187.65,433.13 L189.39,432.96 L191.12,432.78 L192.85,432.59 L194.58,432.39 L196.32,432.19 L198.05,431.97 L199.78,431.74 L201.51,431.50 L203.25,431.24 L204.98,430.97 L206.71,430.69 L208.44,430.39 L210.18,430.07 L211.91,429.74 L213.64,429.40 L215.37,429.05 L217.11,428.69 L218.84,428.33 L220.57,427.95 L222.30,427.56 L224.04,427.17 L225.77,426.77 L227.50,426.36 L229.23,425.94 L230.97,425.51 L232.70,425.08 L234.43,424.65 L236.16,424.21 L237.90,423.76 L239.63,423.31 L241.36,422.86 L243.09,422.40 L244.83,421.94 L246.56,421.47 L248.29,421.01 L250.02,420.54 L251.76,420.07 L253.49,419.59 L255.22,419.10 L256.95,418.60 L258.69,418.09 L260.42,417.55 L262.15,417.00 L263.88,416.41 L265.62,415.82 L267.35,415.20 L269.08,414.58 L270.81,413.94 L272.55,413.29 L274.28,412.63 L276.01,411.95 L277.74,411.26 L279.48,410.56 L281.21,409.85 L282.94,409.14 L284.67,408.42 L286.41,407.70 L288.14,406.96 L289.87,406.21 L291.60,405.46 L293.34,404.69 L295.07,403.91 L296.80,403.12 L298.53,402.33 L300.27,401.53 L302.00,400.74 L303.73,399.94 L305.46,399.14 L307.20,398.34 L308.93,397.54 L310.66,396.74 L312.39,395.93 L314.13,395.13 L315.86,394.33 L317.59,393.54 L319.32,392.74 L321.06,391.95 L322.79,391.17 L324.52,390.40 L326.25,389.63 L327.99,388.88 L329.72,388.13 L331.45,387.39 L333.18,386.66 L334.92,385.95 L336.65,385.24 L338.38,384.55 L340.11,383.87 L341.85,383.20 L343.58,382.55 L345.31,381.92 L347.04,381.31 L348.78,380.71 L350.51,380.13 L352.24,379.57 L353.97,379.03 L355.71,378.50 L357.44,378.00 L359.17,377.51 L360.90,377.05 L362.64,376.60 L364.37,376.17 L366.10,375.76 L367.83,375.38 L369.57,375.02 L371.30,374.69 L373.03,374.37 L374.76,374.07 L376.50,373.79 L378.23,373.52 L379.96,373.25 L381.69,373.00 L383.43,372.74 L385.16,372.50 L386.89,372.25" stroke="#ff00ff" stroke-width="1.85"/>
<path d="M94.10,463.62 L95.83,463.58 L97.56,463.55 L99.30,463.51 L101.03,463.48 L102.76,463.44 L104.49,463.40 L106.23,463.36 L107.96,463.31 L109.69,463.27 L111.42,463.22 L113.16,463.17 L114.89,463.13 L116.62,463.07 L118.35,463.02 L120.09,462.97 L121.82,462.91 L123.55,462.85 L125.28,462.80 L127.02,462.74 L128.75,462.68 L130.48,462.63 L132.21,462.57 L133.95,462.51 L135.68,462.45 L137.41,462.39 L139.14,462.33 L140.88,462.26 L142.61,462.19 L144.34,462.12 L146.07,462.05 L147.81,461.98 L149.54,461.90 L151.27,461.81 L153.00,461.72 L154.74,461.63 L156.47,461.53 L158.20,461.43 L159.93,461.32 L161.67,461.21 L163.40,461.09 L165.13,460.96 L166.86,460.83 L168.60,460.69 L170.33,460.56 L172.06,460.42 L173.79,460.29 L175.53,460.15 L177.26,460.01 L178.99,459.86 L180.72,459.71 L182.46,459.56 L184.19,459.40 L185.92,459.24 L187.65,459.06 L189.39,458.88 L191.12,458.70 L192.85,458.50 L194.58,458.29 L196.32,458.07 L198.05,457.84 L199.78,457.60 L201.51,457.35 L203.25,457.08 L204.98,456.80 L206.71,456.50 L208.44,456.18 L210.18,455.86 L211.91,455.52 L213.64,455.18 L215.37,454.82 L217.11,454.46 L218.84,454.09 L220.57,453.70 L222.30,453.31 L224.04,452.91 L225.77,452.51 L227.50,452.09 L229.23,451.67 L230.97,451.25 L232.70,450.81 L234.43,450.37 L236.16,449.93 L237.90,449.48 L239.63,449.03 L241.36,448.57 L243.09,448.11 L244.83,447.64 L246.56,447.18 L248.29,446.71 L250.02,446.23 L251.76,445.75 L253.49,445.26 L255.22,444.76 L256.95,444.24 L258.69,443.70 L260.42,443.14 L262.15,442.56 L263.88,441.95 L265.62,441.33 L267.35,440.70 L269.08,440.05 L270.81,439.39 L272.55,438.72 L274.28,438.04 L276.01,437.35 L277.74,436.64 L279.48,435.93 L281.21,435.22 L282.94,434.51 L284.67,433.79 L286.41,433.06 L288.14,432.33 L289.87,431.60 L291.60,430.86 L293.34,430.11 L295.07,429.36 L296.80,428.60 L298.53,427.85 L300.27,427.09 L302.00,426.33 L303.73,425.57 L305.46,424.82 L307.20,424.06 L308.93,423.30 L310.66,422.54 L312.39,421.78 L314.13,421.02 L315.86,420.25 L317.59,419.49 L319.32,418.73 L321.06,417.97 L322.79,417.21 L324.52,416.45 L326.25,415.70 L327.99,414.96 L329.72,414.22 L331.45,413.50 L333.18,412.78 L334.92,412.08 L336.65,411.39 L338.38,410.70 L340.11,410.04 L341.85,409.38 L343.58,408.74 L345.31,408.12 L347.04,407.52 L348.78,406.93 L350.51,406.36 L352.24,405.81 L353.97,405.28 L355.71,404.76 L357.44,404.27 L359.17,403.79 L360.90,403.33 L362.64,402.89 L364.37,402.46 L366.10,402.06 L367.83,401.69 L369.57,401.34 L371.30,401.01 L373.03,400.70 L374.76,400.40 L376.50,400.12 L378.23,399.85 L379.96,399.59 L381.69,399.33 L383.43,399.08 L385.16,398.84 L386.89,398.59" stroke="#ff00ff" stroke-width="1.85"/>
<path d="M94.10,500.74 L95.83,500.72 L97.56,500.69 L99.30,500.67 L101.03,500.64 L102.76,500.62 L104.49,500.60 L106.23,500.58 L107.96,500.56 L109.69,500.54 L111.42,500.52 L113.16,500.50 L114.89,500.48 L116.62,500.46 L118.35,500.44 L120.09,500.42 L121.82,500.40 L123.55,500.37 L125.28,500.35 L127.02,500.33 L128.75,500.30 L130.48,500.27 L132.21,500.24 L133.95,500.21 L135.68,500.18 L137.41,500.14 L139.14,500.10 L140.88,500.06 L142.61,500.02 L144.34,499.97 L146.07,499.92 L147.81,499.86 L149.54,499.80 L151.27,499.74 L153.00,499.67 L154.74,499.60 L156.47,499.52 L158.20,499.43 L159.93,499.34 L161.67,499.25 L163.40,499.14 L165.13,499.03 L166.86,498.91 L168.60,498.79 L170.33,498.65 L172.06,498.51 L173.79,498.36 L175.53,498.21 L177.26,498.05 L178.99,497.88 L180.72,497.70 L182.46,497.52 L184.19,497.33 L185.92,497.13 L187.65,496.93 L189.39,496.72 L191.12,496.50 L192.85,496.28 L194.58,496.05 L196.32,495.81 L198.05,495.57 L199.78,495.32 L201.51,495.06 L203.25,494.80 L204.98,494.53 L206.71,494.26 L208.44,493.98 L210.18,493.69 L211.91,493.39 L213.64,493.09 L215.37,492.78 L217.11,492.46 L218.84,492.14 L220.57,491.81 L222.30,491.47 L224.04,491.13 L225.77,490.78 L227.50,490.43 L229.23,490.07 L230.97,489.71 L232.70,489.34 L234.43,488.97 L236.16,488.59 L237.90,488.21 L239.63,487.83 L241.36,487.45 L243.09,487.06 L244.83,486.66 L246.56,486.25 L248.29,485.83 L250.02,485.39 L251.76,484.94 L253.49,484.48 L255.22,483.99 L256.95,483.50 L258.69,482.99 L260.42,482.47 L262.15,481.94 L263.88,481.39 L265.62,480.84 L267.35,480.27 L269.08,479.70 L270.81,479.11 L272.55,478.51 L274.28,477.90 L276.01,477.29 L277.74,476.67 L279.48,476.04 L281.21,475.40 L282.94,474.76 L284.67,474.10 L286.41,473.43 L288.14,472.76 L289.87,472.07 L291.60,471.38 L293.34,470.68 L295.07,469.98 L296.80,469.28 L298.53,468.57 L300.27,467.87 L302.00,467.16 L303.73,466.45 L305.46,465.74 L307.20,465.03 L308.93,464.31 L310.66,463.59 L312.39,462.87 L314.13,462.15 L315.86,461.43 L317.59,460.71 L319.32,459.99 L321.06,459.28 L322.79,458.56 L324.52,457.85 L326.25,457.14 L327.99,456.44 L329.72,455.75 L331.45,455.06 L333.18,454.39 L334.92,453.72 L336.65,453.06 L338.38,452.42 L340.11,451.79 L341.85,451.17 L343.58,450.57 L345.31,449.98 L347.04,449.41 L348.78,448.86 L350.51,448.32 L352.24,447.80 L353.97,447.29 L355.71,446.81 L357.44,446.33 L359.17,445.88 L360.90,445.44 L362.64,445.02 L364.37,444.62 L366.10,444.25 L367.83,443.89 L369.57,443.56 L371.30,443.25 L373.03,442.95 L374.76,442.67 L376.50,442.40 L378.23,442.14 L379.96,441.89 L381.69,441.64 L383.43,441.39 L385.16,441.15 L386.89,440.90" stroke="#ff00ff" stroke-width="1.85"/>
<path d="M207.7,47.1 H239.9" stroke="#0000ff" stroke-width="1.85"/>
<path d="M207.7,66.3 H239.9" stroke="#00ff00" stroke-width="1.85"/>
<path d="M207.7,338.8 H239.9" stroke="#808080" stroke-width="1.85"/>
<path d="M207.7,357.9 H239.9" stroke="#ff00ff" stroke-width="1.85"/>
</g>
<path d="M56.95,252.86 h4.0 M445.45,252.86 h-4.0 M56.95,218.72 h4.0 M445.45,218.72 h-4.0 M56.95,184.59 h4.0 M445.45,184.59 h-4.0 M56.95,150.45 h4.0 M445.45,150.45 h-4.0 M56.95,116.31 h4.0 M445.45,116.31 h-4.0 M56.95,82.17 h4.0 M445.45,82.17 h-4.0 M56.95,48.04 h4.0 M445.45,48.04 h-4.0 M94.10,287.0 v-4.0 M94.10,13.9 v4.0 M211.22,287.0 v-4.0 M211.22,13.9 v4.0 M328.33,287.0 v-4.0 M328.33,13.9 v4.0 M56.95,544.64 h4.0 M445.45,544.64 h-4.0 M56.95,510.47 h4.0 M445.45,510.47 h-4.0 M56.95,476.31 h4.0 M445.45,476.31 h-4.0 M56.95,442.15 h4.0 M445.45,442.15 h-4.0 M56.95,407.99 h4.0 M445.45,407.99 h-4.0 M56.95,373.82 h4.0 M445.45,373.82 h-4.0 M56.95,339.66 h4.0 M445.45,339.66 h-4.0 M94.10,578.8 v-4.0 M94.10,305.5 v4.0 M211.22,578.8 v-4.0 M211.22,305.5 v4.0 M328.33,578.8 v-4.0 M328.33,305.5 v4.0" stroke="#000" stroke-width="1.7" fill="none"/>
<path d="M56.95,276.72 h2.0 M445.45,276.72 h-2.0 M56.95,266.45 h2.0 M445.45,266.45 h-2.0 M56.95,260.44 h2.0 M445.45,260.44 h-2.0 M56.95,256.17 h2.0 M445.45,256.17 h-2.0 M56.95,242.59 h2.0 M445.45,242.59 h-2.0 M56.95,232.31 h2.0 M445.45,232.31 h-2.0 M56.95,226.30 h2.0 M445.45,226.30 h-2.0 M56.95,222.03 h2.0 M445.45,222.03 h-2.0 M56.95,208.45 h2.0 M445.45,208.45 h-2.0 M56.95,198.17 h2.0 M445.45,198.17 h-2.0 M56.95,192.16 h2.0 M445.45,192.16 h-2.0 M56.95,187.90 h2.0 M445.45,187.90 h-2.0 M56.95,174.31 h2.0 M445.45,174.31 h-2.0 M56.95,164.03 h2.0 M445.45,164.03 h-2.0 M56.95,158.02 h2.0 M445.45,158.02 h-2.0 M56.95,153.76 h2.0 M445.45,153.76 h-2.0 M56.95,140.17 h2.0 M445.45,140.17 h-2.0 M56.95,129.90 h2.0 M445.45,129.90 h-2.0 M56.95,123.89 h2.0 M445.45,123.89 h-2.0 M56.95,119.62 h2.0 M445.45,119.62 h-2.0 M56.95,106.04 h2.0 M445.45,106.04 h-2.0 M56.95,95.76 h2.0 M445.45,95.76 h-2.0 M56.95,89.75 h2.0 M445.45,89.75 h-2.0 M56.95,85.48 h2.0 M445.45,85.48 h-2.0 M56.95,71.90 h2.0 M445.45,71.90 h-2.0 M56.95,61.62 h2.0 M445.45,61.62 h-2.0 M56.95,55.61 h2.0 M445.45,55.61 h-2.0 M56.95,51.35 h2.0 M445.45,51.35 h-2.0 M56.95,37.76 h2.0 M445.45,37.76 h-2.0 M56.95,27.48 h2.0 M445.45,27.48 h-2.0 M56.95,21.47 h2.0 M445.45,21.47 h-2.0 M56.95,17.21 h2.0 M445.45,17.21 h-2.0 M129.36,287.0 v-2.0 M129.36,13.9 v2.0 M149.98,287.0 v-2.0 M149.98,13.9 v2.0 M164.61,287.0 v-2.0 M164.61,13.9 v2.0 M175.96,287.0 v-2.0 M175.96,13.9 v2.0 M185.23,287.0 v-2.0 M185.23,13.9 v2.0 M193.08,287.0 v-2.0 M193.08,13.9 v2.0 M199.87,287.0 v-2.0 M199.87,13.9 v2.0 M205.86,287.0 v-2.0 M205.86,13.9 v2.0 M246.47,287.0 v-2.0 M246.47,13.9 v2.0 M267.10,287.0 v-2.0 M267.10,13.9 v2.0 M281.73,287.0 v-2.0 M281.73,13.9 v2.0 M293.08,287.0 v-2.0 M293.08,13.9 v2.0 M302.35,287.0 v-2.0 M302.35,13.9 v2.0 M310.19,287.0 v-2.0 M310.19,13.9 v2.0 M316.98,287.0 v-2.0 M316.98,13.9 v2.0 M322.97,287.0 v-2.0 M322.97,13.9 v2.0 M363.59,287.0 v-2.0 M363.59,13.9 v2.0 M384.21,287.0 v-2.0 M384.21,13.9 v2.0 M398.84,287.0 v-2.0 M398.84,13.9 v2.0 M410.19,287.0 v-2.0 M410.19,13.9 v2.0 M419.47,287.0 v-2.0 M419.47,13.9 v2.0 M427.31,287.0 v-2.0 M427.31,13.9 v2.0 M434.10,287.0 v-2.0 M434.10,13.9 v2.0 M440.09,287.0 v-2.0 M440.09,13.9 v2.0 M56.95,568.52 h2.0 M445.45,568.52 h-2.0 M56.95,558.23 h2.0 M445.45,558.23 h-2.0 M56.95,552.22 h2.0 M445.45,552.22 h-2.0 M56.95,547.95 h2.0 M445.45,547.95 h-2.0 M56.95,534.35 h2.0 M445.45,534.35 h-2.0 M56.95,524.07 h2.0 M445.45,524.07 h-2.0 M56.95,518.05 h2.0 M445.45,518.05 h-2.0 M56.95,513.79 h2.0 M445.45,513.79 h-2.0 M56.95,500.19 h2.0 M445.45,500.19 h-2.0 M56.95,489.91 h2.0 M445.45,489.91 h-2.0 M56.95,483.89 h2.0 M445.45,483.89 h-2.0 M56.95,479.62 h2.0 M445.45,479.62 h-2.0 M56.95,466.03 h2.0 M445.45,466.03 h-2.0 M56.95,455.74 h2.0 M445.45,455.74 h-2.0 M56.95,449.73 h2.0 M445.45,449.73 h-2.0 M56.95,445.46 h2.0 M445.45,445.46 h-2.0 M56.95,431.87 h2.0 M445.45,431.87 h-2.0 M56.95,421.58 h2.0 M445.45,421.58 h-2.0 M56.95,415.57 h2.0 M445.45,415.57 h-2.0 M56.95,411.30 h2.0 M445.45,411.30 h-2.0 M56.95,397.70 h2.0 M445.45,397.70 h-2.0 M56.95,387.42 h2.0 M445.45,387.42 h-2.0 M56.95,381.40 h2.0 M445.45,381.40 h-2.0 M56.95,377.14 h2.0 M445.45,377.14 h-2.0 M56.95,363.54 h2.0 M445.45,363.54 h-2.0 M56.95,353.26 h2.0 M445.45,353.26 h-2.0 M56.95,347.24 h2.0 M445.45,347.24 h-2.0 M56.95,342.97 h2.0 M445.45,342.97 h-2.0 M56.95,329.38 h2.0 M445.45,329.38 h-2.0 M56.95,319.09 h2.0 M445.45,319.09 h-2.0 M56.95,313.08 h2.0 M445.45,313.08 h-2.0 M56.95,308.81 h2.0 M445.45,308.81 h-2.0 M129.36,578.8 v-2.0 M129.36,305.5 v2.0 M149.98,578.8 v-2.0 M149.98,305.5 v2.0 M164.61,578.8 v-2.0 M164.61,305.5 v2.0 M175.96,578.8 v-2.0 M175.96,305.5 v2.0 M185.23,578.8 v-2.0 M185.23,305.5 v2.0 M193.08,578.8 v-2.0 M193.08,305.5 v2.0 M199.87,578.8 v-2.0 M199.87,305.5 v2.0 M205.86,578.8 v-2.0 M205.86,305.5 v2.0 M246.47,578.8 v-2.0 M246.47,305.5 v2.0 M267.10,578.8 v-2.0 M267.10,305.5 v2.0 M281.73,578.8 v-2.0 M281.73,305.5 v2.0 M293.08,578.8 v-2.0 M293.08,305.5 v2.0 M302.35,578.8 v-2.0 M302.35,305.5 v2.0 M310.19,578.8 v-2.0 M310.19,305.5 v2.0 M316.98,578.8 v-2.0 M316.98,305.5 v2.0 M322.97,578.8 v-2.0 M322.97,305.5 v2.0 M363.59,578.8 v-2.0 M363.59,305.5 v2.0 M384.21,578.8 v-2.0 M384.21,305.5 v2.0 M398.84,578.8 v-2.0 M398.84,305.5 v2.0 M410.19,578.8 v-2.0 M410.19,305.5 v2.0 M419.47,578.8 v-2.0 M419.47,305.5 v2.0 M427.31,578.8 v-2.0 M427.31,305.5 v2.0 M434.10,578.8 v-2.0 M434.10,305.5 v2.0 M440.09,578.8 v-2.0 M440.09,305.5 v2.0" stroke="#000" stroke-width="1.3" fill="none"/>
<rect x="56.95" y="13.9" width="388.50" height="273.10" fill="none" stroke="#000" stroke-width="1.8"/>
<rect x="56.95" y="305.5" width="388.50" height="273.30" fill="none" stroke="#000" stroke-width="1.8"/>
<g font-family="Liberation Sans, sans-serif" font-size="11.55px" fill="#000" stroke="#000" stroke-width="0.2" text-rendering="geometricPrecision">
<text x="49.6" y="291.65" text-anchor="end" transform="rotate(0.1 49.6 291.65)" >10<tspan dy="-5.78" font-size="9.24px">−2</tspan></text>
<text x="49.6" y="257.51" text-anchor="end" transform="rotate(0.1 49.6 257.51)" >10<tspan dy="-5.78" font-size="9.24px">−1</tspan></text>
<text x="49.6" y="223.38" text-anchor="end" transform="rotate(0.1 49.6 223.38)" >10<tspan dy="-5.78" font-size="9.24px">0</tspan></text>
<text x="49.6" y="189.24" text-anchor="end" transform="rotate(0.1 49.6 189.24)" >10<tspan dy="-5.78" font-size="9.24px">1</tspan></text>
<text x="49.6" y="155.10" text-anchor="end" transform="rotate(0.1 49.6 155.10)" >10<tspan dy="-5.78" font-size="9.24px">2</tspan></text>
<text x="49.6" y="120.96" text-anchor="end" transform="rotate(0.1 49.6 120.96)" >10<tspan dy="-5.78" font-size="9.24px">3</tspan></text>
<text x="49.6" y="86.82" text-anchor="end" transform="rotate(0.1 49.6 86.82)" >10<tspan dy="-5.78" font-size="9.24px">4</tspan></text>
<text x="49.6" y="52.69" text-anchor="end" transform="rotate(0.1 49.6 52.69)" >10<tspan dy="-5.78" font-size="9.24px">5</tspan></text>
<text x="49.6" y="18.55" text-anchor="end" transform="rotate(0.1 49.6 18.55)" >10<tspan dy="-5.78" font-size="9.24px">6</tspan></text>
<text x="49.6" y="583.45" text-anchor="end" transform="rotate(0.1 49.6 583.45)" >10<tspan dy="-5.78" font-size="9.24px">−2</tspan></text>
<text x="49.6" y="549.29" text-anchor="end" transform="rotate(0.1 49.6 549.29)" >10<tspan dy="-5.78" font-size="9.24px">−1</tspan></text>
<text x="49.6" y="515.12" text-anchor="end" transform="rotate(0.1 49.6 515.12)" >10<tspan dy="-5.78" font-size="9.24px">0</tspan></text>
<text x="49.6" y="480.96" text-anchor="end" transform="rotate(0.1 49.6 480.96)" >10<tspan dy="-5.78" font-size="9.24px">1</tspan></text>
<text x="49.6" y="446.80" text-anchor="end" transform="rotate(0.1 49.6 446.80)" >10<tspan dy="-5.78" font-size="9.24px">2</tspan></text>
<text x="49.6" y="412.64" text-anchor="end" transform="rotate(0.1 49.6 412.64)" >10<tspan dy="-5.78" font-size="9.24px">3</tspan></text>
<text x="49.6" y="378.47" text-anchor="end" transform="rotate(0.1 49.6 378.47)" >10<tspan dy="-5.78" font-size="9.24px">4</tspan></text>
<text x="49.6" y="344.31" text-anchor="end" transform="rotate(0.1 49.6 344.31)" >10<tspan dy="-5.78" font-size="9.24px">5</tspan></text>
<text x="49.6" y="310.15" text-anchor="end" transform="rotate(0.1 49.6 310.15)" >10<tspan dy="-5.78" font-size="9.24px">6</tspan></text>
<text x="94.10" y="595.6" text-anchor="middle" transform="rotate(0.1 94.10 595.6)" >10<tspan dy="-5.78" font-size="9.24px">0</tspan></text>
<text x="211.22" y="595.6" text-anchor="middle" transform="rotate(0.1 211.22 595.6)" >10<tspan dy="-5.78" font-size="9.24px">1</tspan></text>
<text x="328.33" y="595.6" text-anchor="middle" transform="rotate(0.1 328.33 595.6)" >10<tspan dy="-5.78" font-size="9.24px">2</tspan></text>
<text x="445.45" y="595.6" text-anchor="middle" transform="rotate(0.1 445.45 595.6)" >10<tspan dy="-5.78" font-size="9.24px">3</tspan></text>
<text x="251.4" y="611.2" text-anchor="middle" transform="rotate(0.1 251.4 611.2)" >Magnetic field, B/G</text>
<g transform="translate(20.1,258.0) rotate(-90)"><text x="167.3" y="0" text-anchor="end"><tspan font-family="Liberation Serif, serif" font-style="italic">s</tspan>–wave inelastic cross section, σ</text><text x="168.3" y="-5.3" font-size="9.24px">L = 0</text><text x="167.3" y="2.65" font-size="9.24px">β, inel</text><text x="198.6" y="0">/Å</text><text x="210.6" y="-5.3" font-size="9.24px">2</text></g>
<g transform="translate(20.1,549.65) rotate(-90)"><text x="167.3" y="0" text-anchor="end"><tspan font-family="Liberation Serif, serif" font-style="italic">s</tspan>–wave inelastic cross section, σ</text><text x="168.3" y="-5.3" font-size="9.24px">L = 0</text><text x="167.3" y="2.65" font-size="9.24px">β, inel</text><text x="198.6" y="0">/Å</text><text x="210.6" y="-5.3" font-size="9.24px">2</text></g>
<text x="200.6" y="50.9" text-anchor="end" transform="rotate(0.1 200.6 50.9)" >exc. hyperfine</text>
<text x="200.6" y="69.5" text-anchor="end" transform="rotate(0.1 200.6 69.5)" >β<tspan dy="3.47" font-size="9.24px">15</tspan><tspan dy="-3.47" font-size="11.55px"> = (3/2, 5/2, +5/2)</tspan></text>
<text x="200.6" y="342.3" text-anchor="end" transform="rotate(0.1 200.6 342.3)" >β<tspan dy="3.47" font-size="9.24px">17</tspan><tspan dy="-3.47" font-size="11.55px"> = (1/2, 3/2, +1/2)</tspan></text>
<text x="200.6" y="361.3" text-anchor="end" transform="rotate(0.1 200.6 361.3)" >β<tspan dy="3.47" font-size="9.24px">18</tspan><tspan dy="-3.47" font-size="11.55px"> = (1/2, 3/2, +3/2)</tspan></text>
<text x="67.4" y="143.9" text-anchor="start" transform="rotate(0.1 67.4 143.9)" >E/K</text>
<text x="67.1" y="170.6" text-anchor="start" transform="rotate(0.1 67.1 170.6)" >10<tspan dy="-5.78" font-size="9.24px">−7</tspan></text>
<text x="67.1" y="189.1" text-anchor="start" transform="rotate(0.1 67.1 189.1)" >10<tspan dy="-5.78" font-size="9.24px">−6</tspan></text>
<text x="67.1" y="207.6" text-anchor="start" transform="rotate(0.1 67.1 207.6)" >10<tspan dy="-5.78" font-size="9.24px">−5</tspan></text>
<text x="67.1" y="231.1" text-anchor="start" transform="rotate(0.1 67.1 231.1)" >10<tspan dy="-5.78" font-size="9.24px">−4</tspan></text>
<text x="67.1" y="259.3" text-anchor="start" transform="rotate(0.1 67.1 259.3)" >10<tspan dy="-5.78" font-size="9.24px">−3</tspan></text>
<text x="67.1" y="404.1" text-anchor="start" transform="rotate(0.1 67.1 404.1)" >10<tspan dy="-5.78" font-size="9.24px">−7</tspan></text>
<text x="67.1" y="423.05" text-anchor="start" transform="rotate(0.1 67.1 423.05)" >10<tspan dy="-5.78" font-size="9.24px">−6</tspan></text>
<text x="67.1" y="440.6" text-anchor="start" transform="rotate(0.1 67.1 440.6)" >10<tspan dy="-5.78" font-size="9.24px">−5</tspan></text>
<text x="67.1" y="464.8" text-anchor="start" transform="rotate(0.1 67.1 464.8)" >10<tspan dy="-5.78" font-size="9.24px">−4</tspan></text>
<text x="67.1" y="502.6" text-anchor="start" transform="rotate(0.1 67.1 502.6)" >10<tspan dy="-5.78" font-size="9.24px">−3</tspan></text>
<text x="270.6" y="258.0" text-anchor="start" transform="rotate(0.1 270.6 258.0)" >B<tspan dy="-5.78" font-size="9.24px">5/2</tspan></text>
</g>
</svg></body></html>
